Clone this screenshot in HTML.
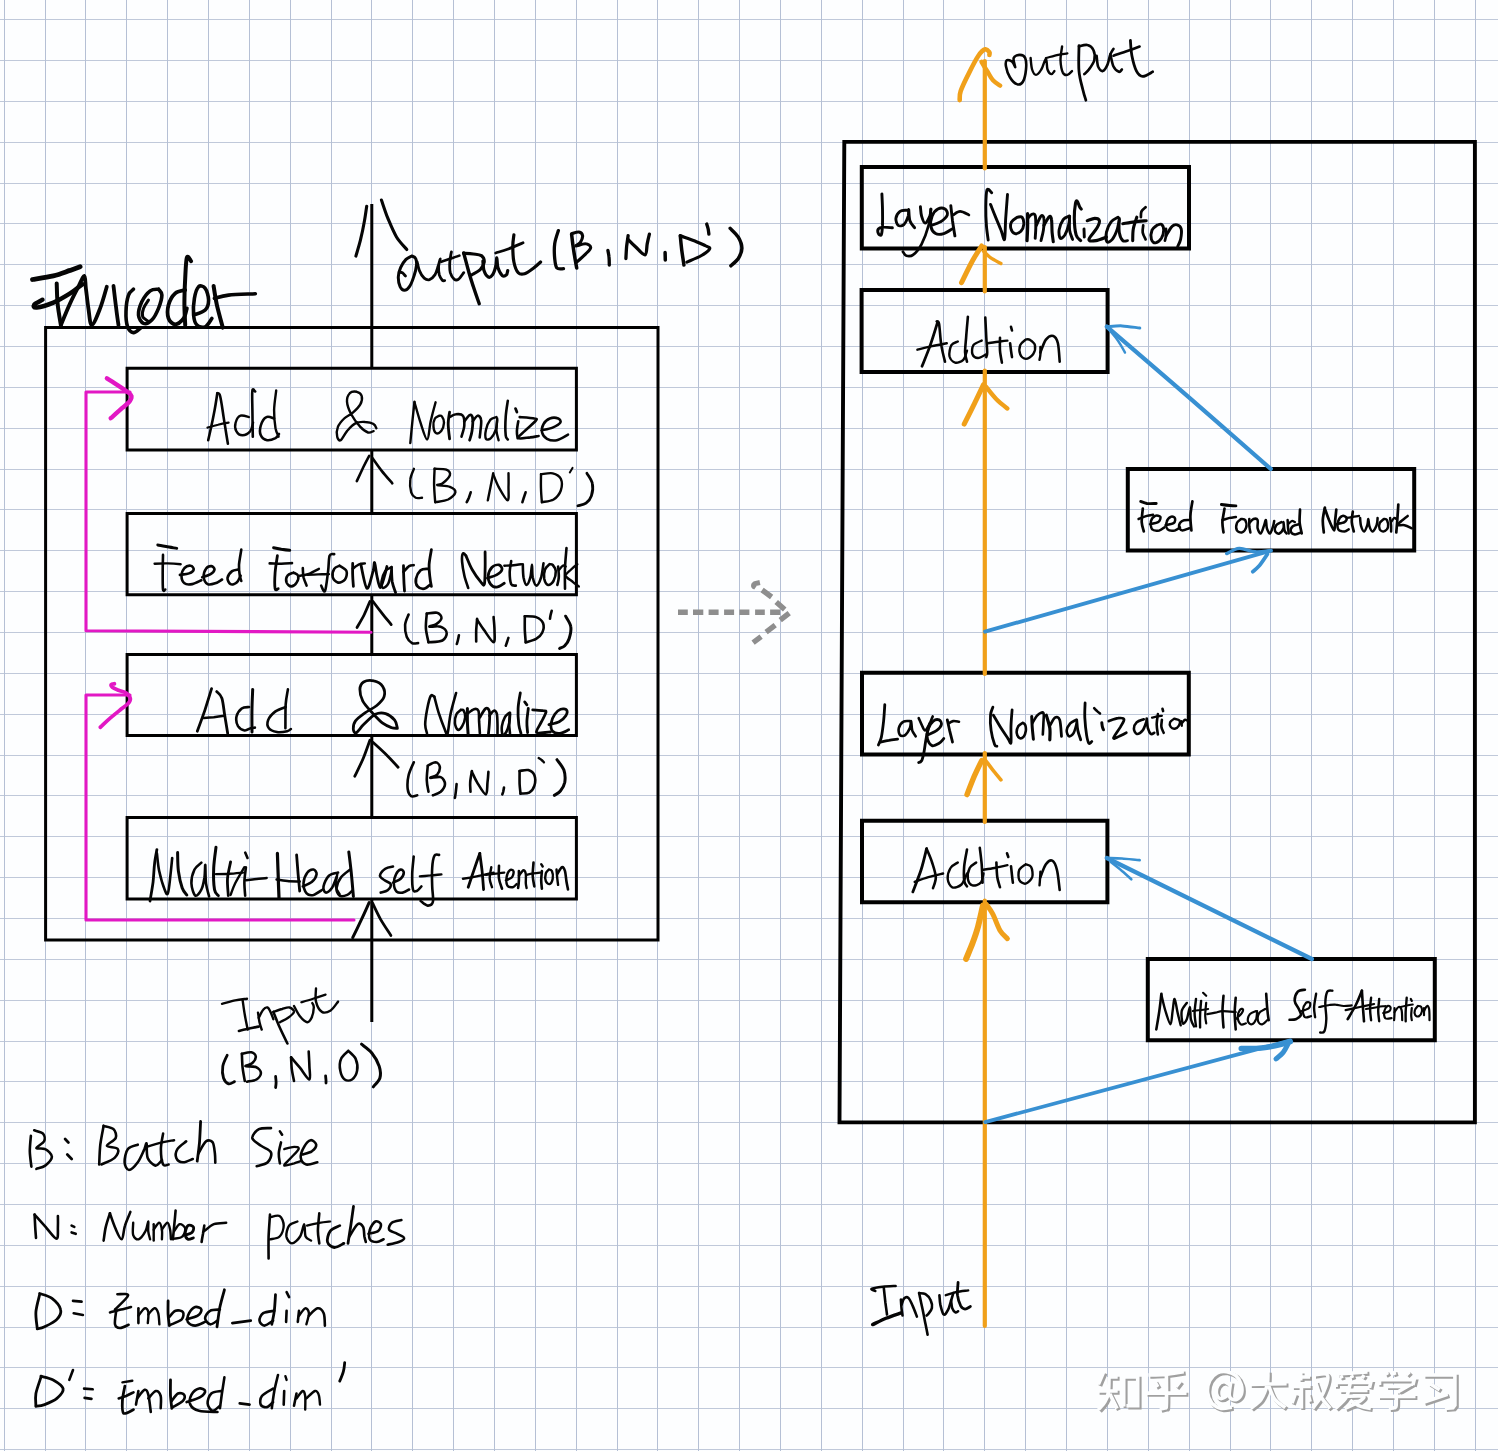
<!DOCTYPE html>
<html><head><meta charset="utf-8"><title>Encoder diagram</title>
<style>
html,body{margin:0;padding:0;background:#fdfeff;font-family:"Liberation Sans",sans-serif;}
svg{display:block}
</style></head><body>
<svg width="1498" height="1451" viewBox="0 0 1498 1451">
<rect width="1498" height="1451" fill="#fdfeff"/>
<g fill="none" stroke-width="1" shape-rendering="crispEdges"><path stroke="#c0c9da" d="M0 19.60H1498M0 60.46H1498M0 101.32H1498M0 142.18H1498M0 183.04H1498M0 223.90H1498M0 264.76H1498M0 305.62H1498M0 346.48H1498M0 387.34H1498M0 428.20H1498M0 469.06H1498M0 509.92H1498M0 550.78H1498M0 591.64H1498M0 632.50H1498M0 673.36H1498M0 714.22H1498M0 755.08H1498M0 795.94H1498M0 836.80H1498M0 877.66H1498M0 918.52H1498M0 959.38H1498M0 1000.24H1498M0 1041.10H1498M0 1081.96H1498M0 1122.82H1498M0 1163.68H1498M0 1204.54H1498M0 1245.40H1498M0 1286.26H1498M0 1327.12H1498M0 1367.98H1498M0 1408.84H1498M0 1449.70H1498"/><path stroke="#b5c0d5" d="M4.20 0V1451M45.06 0V1451M85.92 0V1451M126.78 0V1451M167.64 0V1451M208.50 0V1451M249.36 0V1451M290.22 0V1451M331.08 0V1451M371.94 0V1451M412.80 0V1451M453.66 0V1451M494.52 0V1451M535.38 0V1451M576.24 0V1451M617.10 0V1451M657.96 0V1451M698.82 0V1451M739.68 0V1451M780.54 0V1451M821.40 0V1451M862.26 0V1451M903.12 0V1451M943.98 0V1451M984.84 0V1451M1025.70 0V1451M1066.56 0V1451M1107.42 0V1451M1148.28 0V1451M1189.14 0V1451M1230.00 0V1451M1270.86 0V1451M1311.72 0V1451M1352.58 0V1451M1393.44 0V1451M1434.30 0V1451M1475.16 0V1451"/></g>
<g fill="none" stroke-linecap="butt" stroke-linejoin="miter" stroke-width="3.6"><path d="M1103.7 1371.7L1098.4 1384.4M1108.4 1377.0L1117.7 1377.0M1097.7 1391.0L1117.7 1391.0M1109.0 1377.0C1108.9 1379.6 1109.0 1388.3 1108.4 1392.4C1107.7 1396.5 1106.7 1398.8 1105.0 1401.7C1103.4 1404.6 1099.5 1408.4 1098.4 1409.7M1109.7 1393.7C1110.4 1395.1 1112.5 1399.3 1113.7 1401.7C1114.9 1404.2 1116.5 1407.3 1117.0 1408.4M1126.4 1405.7L1137.7 1405.7L1137.7 1377.0L1123.7 1377.0L1123.7 1406.4M1148.4 1375.0C1151.2 1374.9 1159.2 1374.9 1165.1 1374.4C1171.0 1373.8 1180.7 1372.1 1183.8 1371.7M1154.4 1381.0L1157.8 1387.0M1180.5 1381.0L1175.8 1387.0M1145.7 1393.1L1186.5 1393.1M1166.4 1375.0C1166.4 1379.9 1166.7 1398.9 1166.4 1404.4C1166.2 1409.9 1166.2 1407.0 1165.1 1407.7C1164.0 1408.5 1160.7 1408.8 1159.8 1409.1M1231.9 1407.1C1230.1 1407.3 1224.5 1409.1 1221.2 1408.4C1217.8 1407.7 1214.1 1405.7 1211.8 1403.1C1209.6 1400.4 1207.9 1396.2 1207.6 1392.4C1207.2 1388.6 1208.2 1383.6 1209.8 1380.4C1211.4 1377.1 1214.4 1374.5 1217.2 1373.0C1220.0 1371.6 1223.4 1371.2 1226.5 1371.7C1229.6 1372.1 1233.4 1373.6 1235.9 1375.7C1238.3 1377.8 1240.3 1381.4 1241.2 1384.4C1242.1 1387.4 1242.1 1391.3 1241.5 1393.7C1240.8 1396.2 1238.8 1398.2 1237.2 1399.1C1235.6 1399.9 1233.2 1399.7 1231.9 1399.1C1230.5 1398.4 1229.4 1397.9 1229.2 1395.1C1229.0 1392.2 1230.5 1383.9 1230.8 1381.7M1229.9 1385.0C1228.9 1384.5 1225.9 1381.6 1223.9 1381.7C1221.8 1381.8 1219.1 1383.7 1217.8 1385.7C1216.6 1387.7 1216.2 1391.6 1216.5 1393.7C1216.8 1395.8 1218.4 1397.8 1219.8 1398.4C1221.3 1398.9 1223.7 1398.1 1225.2 1397.1C1226.7 1396.1 1228.3 1393.2 1228.9 1392.4M1249.9 1384.4L1286.6 1383.7M1267.9 1371.0C1267.8 1373.2 1268.4 1379.7 1267.2 1384.4C1266.1 1389.0 1264.0 1395.1 1261.2 1399.1C1258.5 1403.1 1252.3 1406.8 1250.6 1408.4M1268.6 1385.7C1269.6 1387.9 1271.8 1395.4 1274.6 1399.1C1277.4 1402.7 1283.5 1406.3 1285.3 1407.7M1300.7 1371.7L1300.7 1380.4M1300.7 1377.0L1310.1 1377.0M1292.0 1386.4L1310.7 1386.4M1301.4 1387.0L1301.4 1408.4M1295.4 1393.7L1292.0 1403.1M1308.1 1393.7L1310.1 1401.7M1314.1 1375.0C1316.3 1375.0 1325.9 1372.1 1327.4 1375.0C1329.0 1377.9 1325.9 1386.8 1323.4 1392.4C1321.0 1397.9 1314.5 1405.7 1312.7 1408.4M1315.4 1381.7C1316.3 1384.1 1318.3 1391.9 1320.7 1396.4C1323.2 1400.8 1328.5 1406.4 1330.1 1408.4M1337.4 1374.0L1367.5 1372.0M1340.8 1375.7L1342.1 1378.4M1351.4 1375.3L1352.5 1378.0M1364.1 1375.0L1362.1 1378.0M1336.1 1387.0L1336.1 1382.4L1370.8 1382.4L1369.5 1387.7M1339.4 1390.4L1367.5 1390.4M1350.1 1383.7C1349.4 1386.0 1348.5 1393.6 1346.1 1397.7C1343.7 1401.8 1337.2 1406.6 1335.4 1408.4M1344.8 1396.4C1347.9 1396.4 1361.5 1395.3 1363.5 1396.4C1365.5 1397.5 1359.9 1401.1 1356.8 1403.1C1353.7 1405.1 1346.8 1407.5 1344.8 1408.4M1350.1 1400.4C1351.9 1401.4 1357.3 1405.1 1360.8 1406.4C1364.2 1407.7 1369.1 1408.1 1370.8 1408.4M1385.5 1371.7L1387.5 1375.0M1393.5 1371.0L1394.8 1375.0M1409.5 1371.7L1406.2 1375.0M1379.5 1385.0L1379.5 1379.7L1414.2 1379.7L1412.9 1385.0M1386.2 1386.4L1407.5 1386.4L1398.2 1391.7M1378.1 1396.4L1415.5 1396.4M1396.2 1391.7C1396.2 1393.9 1396.4 1402.4 1396.2 1405.1C1395.9 1407.7 1396.1 1407.2 1394.8 1407.7C1393.6 1408.3 1389.8 1408.3 1388.8 1408.4M1423.5 1375.0L1454.9 1375.0L1454.9 1405.1L1452.9 1407.7L1444.9 1408.4M1428.9 1383.0L1439.6 1389.7M1423.5 1402.4L1447.6 1394.4" stroke="#a0a0a0" stroke-width="4" transform="translate(1.9 1.7)"/><path d="M1103.7 1371.7L1098.4 1384.4M1108.4 1377.0L1117.7 1377.0M1097.7 1391.0L1117.7 1391.0M1109.0 1377.0C1108.9 1379.6 1109.0 1388.3 1108.4 1392.4C1107.7 1396.5 1106.7 1398.8 1105.0 1401.7C1103.4 1404.6 1099.5 1408.4 1098.4 1409.7M1109.7 1393.7C1110.4 1395.1 1112.5 1399.3 1113.7 1401.7C1114.9 1404.2 1116.5 1407.3 1117.0 1408.4M1126.4 1405.7L1137.7 1405.7L1137.7 1377.0L1123.7 1377.0L1123.7 1406.4M1148.4 1375.0C1151.2 1374.9 1159.2 1374.9 1165.1 1374.4C1171.0 1373.8 1180.7 1372.1 1183.8 1371.7M1154.4 1381.0L1157.8 1387.0M1180.5 1381.0L1175.8 1387.0M1145.7 1393.1L1186.5 1393.1M1166.4 1375.0C1166.4 1379.9 1166.7 1398.9 1166.4 1404.4C1166.2 1409.9 1166.2 1407.0 1165.1 1407.7C1164.0 1408.5 1160.7 1408.8 1159.8 1409.1M1231.9 1407.1C1230.1 1407.3 1224.5 1409.1 1221.2 1408.4C1217.8 1407.7 1214.1 1405.7 1211.8 1403.1C1209.6 1400.4 1207.9 1396.2 1207.6 1392.4C1207.2 1388.6 1208.2 1383.6 1209.8 1380.4C1211.4 1377.1 1214.4 1374.5 1217.2 1373.0C1220.0 1371.6 1223.4 1371.2 1226.5 1371.7C1229.6 1372.1 1233.4 1373.6 1235.9 1375.7C1238.3 1377.8 1240.3 1381.4 1241.2 1384.4C1242.1 1387.4 1242.1 1391.3 1241.5 1393.7C1240.8 1396.2 1238.8 1398.2 1237.2 1399.1C1235.6 1399.9 1233.2 1399.7 1231.9 1399.1C1230.5 1398.4 1229.4 1397.9 1229.2 1395.1C1229.0 1392.2 1230.5 1383.9 1230.8 1381.7M1229.9 1385.0C1228.9 1384.5 1225.9 1381.6 1223.9 1381.7C1221.8 1381.8 1219.1 1383.7 1217.8 1385.7C1216.6 1387.7 1216.2 1391.6 1216.5 1393.7C1216.8 1395.8 1218.4 1397.8 1219.8 1398.4C1221.3 1398.9 1223.7 1398.1 1225.2 1397.1C1226.7 1396.1 1228.3 1393.2 1228.9 1392.4M1249.9 1384.4L1286.6 1383.7M1267.9 1371.0C1267.8 1373.2 1268.4 1379.7 1267.2 1384.4C1266.1 1389.0 1264.0 1395.1 1261.2 1399.1C1258.5 1403.1 1252.3 1406.8 1250.6 1408.4M1268.6 1385.7C1269.6 1387.9 1271.8 1395.4 1274.6 1399.1C1277.4 1402.7 1283.5 1406.3 1285.3 1407.7M1300.7 1371.7L1300.7 1380.4M1300.7 1377.0L1310.1 1377.0M1292.0 1386.4L1310.7 1386.4M1301.4 1387.0L1301.4 1408.4M1295.4 1393.7L1292.0 1403.1M1308.1 1393.7L1310.1 1401.7M1314.1 1375.0C1316.3 1375.0 1325.9 1372.1 1327.4 1375.0C1329.0 1377.9 1325.9 1386.8 1323.4 1392.4C1321.0 1397.9 1314.5 1405.7 1312.7 1408.4M1315.4 1381.7C1316.3 1384.1 1318.3 1391.9 1320.7 1396.4C1323.2 1400.8 1328.5 1406.4 1330.1 1408.4M1337.4 1374.0L1367.5 1372.0M1340.8 1375.7L1342.1 1378.4M1351.4 1375.3L1352.5 1378.0M1364.1 1375.0L1362.1 1378.0M1336.1 1387.0L1336.1 1382.4L1370.8 1382.4L1369.5 1387.7M1339.4 1390.4L1367.5 1390.4M1350.1 1383.7C1349.4 1386.0 1348.5 1393.6 1346.1 1397.7C1343.7 1401.8 1337.2 1406.6 1335.4 1408.4M1344.8 1396.4C1347.9 1396.4 1361.5 1395.3 1363.5 1396.4C1365.5 1397.5 1359.9 1401.1 1356.8 1403.1C1353.7 1405.1 1346.8 1407.5 1344.8 1408.4M1350.1 1400.4C1351.9 1401.4 1357.3 1405.1 1360.8 1406.4C1364.2 1407.7 1369.1 1408.1 1370.8 1408.4M1385.5 1371.7L1387.5 1375.0M1393.5 1371.0L1394.8 1375.0M1409.5 1371.7L1406.2 1375.0M1379.5 1385.0L1379.5 1379.7L1414.2 1379.7L1412.9 1385.0M1386.2 1386.4L1407.5 1386.4L1398.2 1391.7M1378.1 1396.4L1415.5 1396.4M1396.2 1391.7C1396.2 1393.9 1396.4 1402.4 1396.2 1405.1C1395.9 1407.7 1396.1 1407.2 1394.8 1407.7C1393.6 1408.3 1389.8 1408.3 1388.8 1408.4M1423.5 1375.0L1454.9 1375.0L1454.9 1405.1L1452.9 1407.7L1444.9 1408.4M1428.9 1383.0L1439.6 1389.7M1423.5 1402.4L1447.6 1394.4" stroke="#fdfeff"/></g>
<g stroke="#8e8e8e" fill="none" stroke-width="5.4" stroke-linecap="butt"><path d="M678.0 612.3L687.8 612.3M693.0 612.3L703.3 612.3M708.6 612.3L718.6 612.3M724.1 612.3L734.1 612.3M739.4 612.3L749.4 612.3M755.1 612.3L764.8 612.3M770.1 612.3L780.2 612.3M762.1 590.0L771.6 597.0M776.2 602.1L784.7 609.6M789.2 613.1L780.2 620.1M775.2 625.1L766.1 632.1M761.1 636.6L753.1 642.6"/><path d="M759.9 582.5C759.0 582.7 755.7 583.2 754.6 583.8C753.6 584.4 753.5 585.6 753.6 586.2C753.8 586.9 755.3 587.3 755.6 587.5" stroke-width="5"/></g>
<g stroke="#000" stroke-width="3.0" fill="none" stroke-linejoin="miter">
<path d="M45.6 327.4H658.0V940.1H45.6Z"/>
<path d="M127.1 368.3H576.4V450.0H127.1Z"/>
<path d="M127.1 513.5H576.4V594.7H127.1Z"/>
<path d="M127.1 654.6H576.4V735.4H127.1Z"/>
<path d="M127.1 817.6H576.4V899.1H127.1Z"/>
<path d="M371.8 204V368.3M371.8 450V513.5M371.8 594.7V654.6M371.8 735.4V817.6M371.8 899.1V1022" stroke-width="3"/>
</g>
<g stroke="#000" stroke-width="4.0" fill="none" stroke-linejoin="miter">
<path d="M844.3 141.9H1474.9V1122.4H839.5Z" stroke-width="3.9"/>
<path d="M861.8 167.0H1189.0V248.4H861.8Z"/>
<path d="M861.6 290.0H1107.6V372.0H861.6Z"/>
<path d="M1127.8 469.0H1414.2V550.6H1127.8Z"/>
<path d="M862.0 672.8H1188.8V754.4H862.0Z"/>
<path d="M862.0 820.8H1107.4V902.3H862.0Z"/>
<path d="M1147.8 959.0H1434.8V1040.2H1147.8Z"/>
</g>
<g stroke="#f0a01a" fill="none" stroke-linecap="round" stroke-linejoin="round"><path d="M984.8 61V168.5M984.8 247V291.5M984.8 370.5V674M984.8 753V822M984.8 900.5V1326" stroke-width="4.2"/>
<path d="M959.7 100.2C959.8 98.7 959.1 95.6 960.7 91.0C962.3 86.4 966.2 78.5 969.2 72.6C972.1 66.7 975.7 59.6 978.4 55.7C981.1 51.8 983.5 49.8 985.3 49.3C987.1 48.7 988.7 51.4 989.4 52.3C990.1 53.3 989.4 54.5 989.4 54.9" stroke-width="4.6"/>
<path d="M981.5 61.8C982.5 63.5 985.7 68.8 987.6 71.8C989.5 74.9 990.9 78.0 993.0 80.3C995.1 82.6 999.0 84.8 1000.2 85.6" stroke-width="4.4"/>
<path d="M981.7 246.0C980.1 248.5 975.9 254.6 972.5 260.7C969.1 266.8 963.3 279.1 961.5 282.7" stroke-width="5.0"/>
<path d="M983.5 251.2C984.7 252.3 987.9 255.9 990.8 257.9C993.8 260.0 999.3 262.5 1000.9 263.5" stroke-width="3.4"/>
<path d="M983.5 384.6C982.0 387.8 977.5 397.3 974.3 403.9C971.1 410.5 965.9 420.7 964.2 424.1" stroke-width="5.0"/>
<path d="M985.7 386.5C987.5 388.6 992.7 395.6 996.4 399.3C1000.0 403.0 1005.5 407.0 1007.4 408.5" stroke-width="4.4"/>
<path d="M981.7 760.6C980.4 763.2 976.8 770.5 974.3 776.2C971.9 781.9 968.2 791.5 967.0 794.6" stroke-width="5.4"/>
<path d="M985.7 760.6C986.9 762.1 990.1 766.6 992.7 769.8C995.2 773.0 999.6 778.2 1000.9 779.9" stroke-width="3.6"/>
<path d="M983.0 905.6C982.1 909.1 979.7 920.5 978.0 926.7C976.3 933.0 974.5 937.9 972.5 943.3C970.5 948.6 967.1 956.3 966.1 958.9" stroke-width="6.0"/>
<path d="M986.3 904.3C987.3 905.9 990.4 909.5 992.7 913.9C995.0 918.2 997.6 926.3 1000.0 930.4C1002.5 934.5 1006.1 937.3 1007.4 938.7" stroke-width="5.0"/></g>
<g stroke="#3890d2" fill="none" stroke-linecap="round" stroke-linejoin="round"><path d="M1270.8 468.9C1257.1 456.9 1215.5 420.4 1188.1 396.7C1160.8 373.0 1120.4 338.3 1106.8 326.6" stroke-width="4.2"/>
<path d="M1106.8 326.6C1109.4 326.5 1116.8 325.7 1122.2 325.9C1127.7 326.2 1136.8 327.7 1139.8 328.0" stroke-width="3.0"/>
<path d="M1108.2 328.7C1109.9 330.7 1115.2 336.7 1118.0 340.7C1120.8 344.6 1123.9 350.6 1125.0 352.6" stroke-width="2.4"/>
<path d="M985.0 631.7L1270.9 550.6" stroke-width="3.8"/>
<path d="M1270.9 550.6C1268.3 550.8 1260.4 552.2 1255.1 551.8C1249.8 551.4 1243.9 548.1 1239.2 548.4C1234.4 548.7 1228.8 552.7 1226.7 553.6" stroke-width="3.4"/>
<path d="M1267.5 554.0C1266.2 555.9 1262.1 562.4 1259.6 565.4C1257.1 568.3 1253.9 570.7 1252.8 571.7" stroke-width="3.8"/>
<path d="M1311.9 959.0L1106.8 858.0" stroke-width="4.2"/>
<path d="M1106.8 858.0C1109.4 858.1 1116.6 858.2 1122.0 858.5C1127.5 858.9 1136.7 859.9 1139.7 860.1" stroke-width="2.6"/>
<path d="M1110.8 862.0C1112.7 863.5 1118.6 868.0 1122.0 870.9C1125.5 873.7 1129.8 877.9 1131.3 879.3" stroke-width="2.6"/>
<path d="M985.2 1122.1L1290.4 1040.4" stroke-width="3.8"/>
<path d="M1290.4 1041.6C1287.4 1042.4 1278.2 1045.3 1272.4 1046.4C1266.6 1047.6 1260.8 1048.0 1255.6 1048.4C1250.4 1048.7 1243.6 1048.4 1241.2 1048.4" stroke-width="5.4"/>
<path d="M1288.0 1044.0C1287.2 1045.4 1285.2 1050.0 1283.2 1052.4C1281.2 1054.9 1277.2 1057.9 1276.0 1058.9" stroke-width="5.0"/></g>
<g stroke="#e218c4" fill="none" stroke-linecap="round" stroke-linejoin="round"><path d="M130 392H86V630.8L371 632.2" stroke-width="3.1"/>
<path d="M130 695H86V920H354" stroke-width="3.1"/>
<path d="M106.9 378.3C108.1 379.1 111.2 381.0 114.4 383.1C117.7 385.2 123.3 388.9 126.2 391.0C129.0 393.1 130.8 394.1 131.3 395.8C131.9 397.6 131.2 399.3 129.6 401.4C128.1 403.4 125.2 405.4 122.0 408.2C118.9 411.1 112.5 416.6 110.7 418.2" stroke-width="4.4"/>
<path d="M114.4 683.8C113.9 683.9 111.7 683.9 111.3 684.5C111.0 685.0 111.2 686.2 112.4 687.2C113.6 688.2 116.3 689.3 118.6 690.3C120.9 691.3 124.2 691.7 126.2 693.1C128.1 694.5 130.0 696.9 130.3 698.6C130.6 700.3 129.8 701.6 128.2 703.4C126.6 705.3 123.7 707.1 120.6 709.6C117.5 712.1 113.0 715.7 109.6 718.6C106.2 721.5 101.9 725.8 100.3 727.2" stroke-width="3.8"/></g>
<g stroke="#050505" fill="none" stroke-linecap="round" stroke-linejoin="round"><path d="M366.7 206.2C366.3 208.8 365.3 216.6 364.2 222.3C363.2 228.1 361.7 235.0 360.3 240.7C358.9 246.3 356.6 253.5 355.9 256.1" stroke-width="3.1"/>
<path d="M381.4 200.0C382.5 203.0 385.2 211.7 387.7 217.9C390.3 224.1 393.4 231.7 396.5 237.0C399.7 242.3 405.1 247.4 406.8 249.5" stroke-width="3.1"/>
<path d="M411.9 256.0C410.9 256.5 407.9 257.5 406.0 259.4C404.2 261.3 402.0 264.4 400.7 267.4C399.4 270.3 398.4 273.8 398.3 277.0C398.2 280.2 399.1 284.4 400.1 286.6C401.2 288.8 402.8 290.4 404.4 290.3C406.0 290.3 408.2 288.5 409.8 286.1C411.4 283.7 412.9 279.4 414.0 275.9C415.2 272.5 416.2 268.2 416.5 265.2C416.8 262.3 416.4 259.9 415.6 258.3C414.9 256.8 412.5 256.3 411.9 256.0" stroke-width="3.0"/>
<path d="M399.4 272.2C399.9 272.3 401.3 272.1 402.3 272.7C403.3 273.4 405.0 275.6 405.5 276.1" stroke-width="2.8"/>
<path d="M417.2 262.0C417.6 263.5 418.2 267.9 419.4 270.6C420.5 273.3 422.5 276.6 424.2 278.1C425.9 279.6 427.7 280.2 429.5 279.7C431.3 279.1 433.4 277.1 434.9 274.9C436.3 272.6 437.2 269.0 438.1 266.3C439.0 263.6 440.1 258.8 440.2 258.8C440.3 258.8 438.7 263.6 438.6 266.3C438.5 269.0 438.7 272.5 439.3 274.9C440.0 277.2 441.4 279.2 442.3 280.2C443.2 281.2 444.3 280.6 444.7 280.6" stroke-width="2.8"/>
<path d="M451.4 251.9C451.1 253.6 450.0 258.6 449.8 262.0C449.6 265.5 449.6 269.9 450.3 272.7C451.1 275.6 452.8 278.0 454.1 279.1C455.4 280.2 456.8 280.4 458.4 279.3C460.0 278.3 462.8 273.8 463.7 272.7" stroke-width="2.8"/>
<path d="M441.3 261.8C442.7 261.3 446.8 259.9 449.8 258.8C452.8 257.8 457.8 256.2 459.4 255.6" stroke-width="2.6"/>
<path d="M463.7 253.0C464.6 256.3 467.3 266.6 469.0 272.7C470.8 278.9 472.7 284.7 474.4 289.8C476.1 295.0 478.4 301.4 479.2 303.7" stroke-width="3.4"/>
<path d="M463.7 253.3C465.3 253.4 470.4 253.6 473.3 254.0C476.2 254.4 479.5 254.3 481.3 255.6C483.1 257.0 484.4 259.7 484.2 262.0C484.0 264.4 482.3 267.4 480.3 269.5C478.2 271.7 473.1 274.0 471.7 274.9" stroke-width="3.2"/>
<path d="M482.9 261.0C483.1 262.6 483.1 267.9 484.0 270.6C484.9 273.3 486.8 276.3 488.3 277.0C489.7 277.7 491.3 276.6 492.5 274.9C493.8 273.1 495.0 269.2 495.7 266.3C496.5 263.5 496.5 257.6 496.8 257.8C497.2 257.9 497.0 264.4 497.9 267.4C498.8 270.3 500.7 274.1 502.1 275.4C503.6 276.6 505.5 275.7 506.4 274.9C507.3 274.1 507.5 271.3 507.7 270.6" stroke-width="3.2"/>
<path d="M513.9 234.8C513.7 236.7 512.8 241.5 512.8 246.0C512.8 250.6 513.0 257.6 513.9 262.0C514.8 266.5 516.4 270.8 518.2 272.7C520.0 274.7 522.1 274.5 524.6 273.8C527.1 273.1 530.5 270.4 533.1 268.5C535.8 266.5 539.4 263.1 540.6 262.0" stroke-width="3.2"/>
<path d="M495.7 253.0C497.7 252.3 503.0 250.9 507.5 249.2C512.0 247.5 520.4 243.9 523.0 242.8" stroke-width="2.8"/>
<path d="M558.4 230.6C557.7 232.8 555.3 239.1 554.7 243.8C554.1 248.4 554.3 254.4 554.7 258.5C555.1 262.5 555.4 266.3 556.9 268.0C558.4 269.7 562.4 268.6 563.5 268.7" stroke-width="3.3"/>
<path d="M571.6 234.2C571.9 237.0 572.9 245.5 573.8 251.1C574.6 256.8 576.2 265.2 576.7 268.0" stroke-width="3.5"/>
<path d="M571.6 233.8C572.8 233.5 577.1 231.7 578.9 232.0C580.8 232.3 582.3 234.0 582.6 235.7C582.8 237.4 581.5 240.6 580.4 242.3C579.3 244.0 575.1 245.7 576.0 246.0C576.8 246.2 583.1 243.5 585.5 243.8C588.0 244.0 590.7 245.7 590.7 247.4C590.7 249.2 587.9 251.6 585.5 254.1C583.2 256.5 578.2 260.8 576.7 262.1" stroke-width="3.1"/>
<path d="M607.9 250.4C608.0 251.5 608.8 254.5 609.0 257.0C609.3 259.4 609.3 263.7 609.3 265.1" stroke-width="3.3"/>
<path d="M628.1 235.7C627.9 237.5 627.0 242.9 626.6 246.7C626.3 250.5 626.0 256.5 625.9 258.5" stroke-width="3.3"/>
<path d="M628.1 239.4C629.3 240.6 632.6 244.1 635.5 246.7C638.3 249.3 643.0 255.3 645.0 254.8C647.0 254.3 646.5 247.2 647.2 243.8C647.9 240.4 649.0 235.8 649.4 234.2" stroke-width="3.3"/>
<path d="M665.1 252.6L665.3 259.9" stroke-width="3.5"/>
<path d="M680.3 235.7C680.5 238.0 681.1 244.8 681.7 249.7C682.3 254.5 683.6 262.5 683.9 265.1" stroke-width="3.5"/>
<path d="M680.3 235.7C682.6 236.6 689.9 239.1 694.2 240.8C698.5 242.6 703.4 244.6 706.0 246.0C708.5 247.3 710.4 247.3 709.6 248.9C708.9 250.5 705.3 253.3 701.5 255.5C697.8 257.7 689.3 261.0 686.9 262.1" stroke-width="3.1"/>
<path d="M706.7 224.0C706.9 224.8 707.8 227.4 708.2 229.1C708.5 230.8 708.8 233.4 708.9 234.2" stroke-width="3.3"/>
<path d="M730.2 228.4C731.5 229.8 736.3 233.9 738.3 237.2C740.2 240.5 741.9 244.6 741.9 248.2C741.9 251.7 740.1 255.5 738.3 258.5C736.4 261.4 732.1 264.6 730.9 265.8" stroke-width="3.5"/>
<path d="M32.5 279.5C36.0 278.9 47.1 277.4 53.4 275.9C59.6 274.3 65.6 271.9 70.1 270.4C74.5 268.8 78.4 267.3 80.1 266.7" stroke-width="4.8"/>
<path d="M56.7 283.4C56.9 286.7 56.9 296.5 57.6 303.4C58.2 310.4 60.3 321.5 60.9 325.1" stroke-width="4.0"/>
<path d="M42.5 299.7C41.1 300.6 35.2 303.4 34.2 304.7C33.2 306.1 33.5 307.9 36.7 307.6C39.9 307.2 47.8 304.9 53.4 302.6C58.9 300.2 65.2 296.5 70.1 293.4C74.9 290.3 80.5 285.7 82.6 284.2" stroke-width="4.4"/>
<path d="M60.9 325.1C62.4 321.5 67.1 309.8 70.1 303.4C73.0 297.0 76.0 291.3 78.4 286.7C80.8 282.1 83.0 275.6 84.3 275.9C85.5 276.2 85.2 283.0 85.9 288.4C86.6 293.8 87.5 302.3 88.4 308.4C89.4 314.5 89.8 325.1 91.8 325.1C93.7 325.1 97.6 314.8 100.1 308.4C102.6 302.0 105.7 290.3 106.8 286.7" stroke-width="3.8"/>
<path d="M113.5 285.9C113.9 289.4 115.1 300.2 116.0 306.7C116.8 313.3 118.0 322.0 118.5 325.1" stroke-width="3.8"/>
<path d="M133.5 289.2C132.7 290.2 129.7 291.3 128.5 295.1C127.2 298.8 126.1 306.5 126.0 311.8C125.8 317.0 126.4 323.3 127.6 326.8C128.9 330.3 131.4 332.3 133.5 332.6C135.6 332.9 139.0 329.1 140.2 328.4" stroke-width="3.6"/>
<path d="M158.5 289.2C157.1 289.5 153.0 288.8 150.2 290.9C147.4 293.0 143.8 297.7 141.8 301.7C139.9 305.8 138.2 311.5 138.5 315.1C138.8 318.7 141.3 322.6 143.5 323.4C145.7 324.3 149.3 322.6 151.8 320.1C154.3 317.6 156.8 312.6 158.5 308.4C160.2 304.2 161.9 298.3 161.9 295.1C161.9 291.9 159.1 290.2 158.5 289.2" stroke-width="3.6"/>
<path d="M148.5 300.1C147.7 301.5 144.5 305.6 143.5 308.4C142.5 311.2 142.0 314.7 142.7 316.8C143.4 318.8 146.8 320.2 147.7 320.9" stroke-width="3.0"/>
<path d="M185.2 290.1C183.6 290.6 178.0 290.9 175.2 293.4C172.4 295.9 169.6 300.9 168.5 305.1C167.4 309.3 167.4 315.2 168.5 318.4C169.6 321.6 172.7 324.3 175.2 324.3C177.7 324.3 181.6 321.1 183.6 318.4C185.5 315.8 186.3 310.1 186.9 308.4" stroke-width="3.8"/>
<path d="M191.1 261.2C190.4 260.6 187.9 254.7 186.9 257.5C185.9 260.4 185.6 270.7 185.2 278.4C184.8 286.0 184.4 295.6 184.4 303.4C184.4 311.2 185.1 321.5 185.2 325.1" stroke-width="4.0"/>
<path d="M193.6 315.1C195.5 314.3 202.7 312.6 205.2 310.1C207.8 307.6 208.6 303.7 208.6 300.1C208.6 296.5 206.9 290.6 205.2 288.4C203.6 286.2 200.4 285.1 198.6 286.7C196.8 288.4 195.2 293.7 194.4 298.4C193.6 303.1 193.1 310.6 193.6 315.1C194.0 319.5 195.0 323.2 196.9 325.1C198.8 327.1 202.7 327.9 205.2 326.8C207.8 325.7 210.8 319.8 211.9 318.4" stroke-width="3.6"/>
<path d="M213.6 285.9C214.1 289.1 215.4 298.1 216.9 305.1C218.5 312.0 221.8 323.9 222.8 327.6" stroke-width="4.0"/>
<path d="M214.4 298.4C216.8 297.8 221.8 295.8 228.6 295.1C235.4 294.3 250.9 294.0 255.3 293.7" stroke-width="3.6"/>
<path d="M217.3 393.2C216.8 396.7 215.4 406.4 213.8 414.3C212.3 422.1 209.2 435.9 208.2 440.2" stroke-width="2.6"/>
<path d="M217.3 393.2C217.8 393.7 219.1 392.1 220.1 396.0C221.2 400.0 222.4 409.1 223.6 417.1C224.9 425.0 227.1 439.3 227.9 443.7" stroke-width="2.6"/>
<path d="M207.5 427.6C209.3 427.1 214.5 425.6 218.0 424.8C221.5 423.9 226.8 423.0 228.6 422.7" stroke-width="2.2"/>
<path d="M248.9 417.1C247.5 416.8 242.7 414.7 240.5 415.7C238.2 416.6 236.3 420.1 235.6 422.7C234.9 425.2 235.1 429.0 236.3 431.1C237.4 433.2 240.2 435.3 242.6 435.3C244.9 435.3 248.5 433.2 250.3 431.1C252.0 429.0 252.6 424.1 253.1 422.7" stroke-width="2.4"/>
<path d="M255.2 391.5C254.7 391.4 252.9 387.3 252.4 390.4C251.9 393.5 252.3 402.3 252.4 410.0C252.5 417.8 252.7 432.2 252.8 436.7" stroke-width="2.6"/>
<path d="M274.1 418.5C272.8 418.2 268.6 415.9 266.4 417.1C264.2 418.2 261.7 422.4 260.8 425.5C259.9 428.5 259.7 432.8 260.8 435.3C261.8 437.7 264.6 439.7 267.1 440.2C269.6 440.7 273.5 439.1 275.5 438.1C277.5 437.0 278.4 434.6 279.0 433.9" stroke-width="2.6"/>
<path d="M276.2 390.4C275.9 393.7 274.2 403.7 274.1 410.0C274.0 416.4 274.8 423.8 275.5 428.3C276.3 432.7 278.1 435.3 278.6 436.7" stroke-width="2.4"/>
<path d="M376.4 428.3C376.0 427.6 375.5 425.1 373.6 424.1C371.8 423.0 368.3 422.1 365.2 422.0C362.2 421.8 358.5 421.8 355.4 423.4C352.4 424.9 349.5 428.3 347.0 431.1C344.6 433.9 342.3 439.3 340.7 440.2C339.1 441.1 337.7 438.9 337.2 436.7C336.7 434.5 336.7 429.9 337.9 426.9C339.1 423.8 341.8 420.8 344.2 418.5C346.7 416.1 349.9 415.2 352.6 412.9C355.3 410.5 358.8 407.2 360.3 404.4C361.8 401.6 362.3 398.1 361.7 396.0C361.1 393.9 358.8 392.3 356.8 391.8C354.8 391.4 351.4 391.6 349.8 393.2C348.2 394.9 346.8 398.1 347.0 401.6C347.2 405.1 349.0 410.0 351.2 414.3C353.4 418.5 357.5 423.8 360.3 426.9C363.1 429.9 365.8 431.8 368.0 432.5C370.3 433.2 372.7 431.3 373.6 431.1" stroke-width="2.4"/>
<path d="M414.5 401.6C414.2 404.9 413.1 414.4 412.4 421.3C411.7 428.2 410.7 439.4 410.3 443.0" stroke-width="2.4"/>
<path d="M414.5 402.3C415.5 405.5 418.0 415.1 420.1 421.3C422.2 427.5 425.4 439.5 427.1 439.5C428.9 439.5 429.3 427.5 430.7 421.3C432.1 415.1 434.7 405.5 435.6 402.3" stroke-width="2.4"/>
<path d="M439.1 415.7C438.4 416.1 435.8 416.6 434.9 418.5C433.9 420.3 433.2 424.4 433.5 426.9C433.7 429.3 435.0 432.5 436.3 433.2C437.5 433.9 439.9 432.8 441.2 431.1C442.5 429.3 443.9 425.1 444.0 422.7C444.1 420.2 442.7 417.5 441.9 416.4C441.1 415.2 439.5 415.8 439.1 415.7" stroke-width="2.4"/>
<path d="M449.6 412.1C449.3 414.1 448.2 419.6 448.2 424.1C448.2 428.5 449.3 436.3 449.6 438.8" stroke-width="2.8"/>
<path d="M449.6 417.1C450.6 416.6 453.7 414.5 455.9 414.3C458.1 414.0 461.5 413.8 462.9 415.7C464.3 417.5 464.5 422.0 464.3 425.5C464.1 429.0 462.0 434.8 461.5 436.7" stroke-width="2.6"/>
<path d="M464.3 421.3C465.2 420.2 468.5 415.4 469.9 415.0C471.3 414.5 472.4 415.8 472.7 418.5C473.1 421.1 472.5 427.5 472.0 431.1C471.5 434.7 470.0 438.7 469.6 440.2" stroke-width="2.8"/>
<path d="M472.7 421.3C473.5 420.3 476.2 415.9 477.6 415.7C479.0 415.4 480.7 417.3 481.1 419.9C481.6 422.4 480.7 428.2 480.4 431.1C480.2 434.0 479.8 436.3 479.7 437.4" stroke-width="2.6"/>
<path d="M496.5 417.1C495.5 417.5 492.0 417.8 490.2 419.9C488.5 422.0 486.7 426.5 486.0 429.7C485.3 432.8 485.2 437.4 486.0 438.8C486.8 440.2 489.3 439.6 490.9 438.1C492.6 436.6 494.8 432.7 495.8 429.7C496.9 426.6 497.0 421.5 497.2 419.9" stroke-width="2.4"/>
<path d="M497.2 418.5C497.1 420.6 496.3 427.5 496.5 431.1C496.8 434.7 498.3 438.7 498.6 440.2" stroke-width="2.4"/>
<path d="M507.8 400.9C507.4 403.6 506.0 411.3 505.7 417.1C505.3 422.8 505.3 431.5 505.7 435.3C506.0 439.0 507.4 438.8 507.8 439.5" stroke-width="2.6"/>
<path d="M518.3 421.3C518.0 422.9 517.0 428.3 516.9 431.1C516.8 433.9 517.5 436.9 517.6 438.1" stroke-width="2.6"/>
<path d="M515.5 408.6L516.9 412.1" stroke-width="2.8"/>
<path d="M519.7 417.1C522.1 417.3 531.7 417.9 534.4 418.5C537.1 419.0 537.4 418.5 535.8 420.6C534.2 422.7 527.5 428.2 524.6 431.1C521.7 434.0 517.3 437.0 518.3 438.1C519.2 439.1 526.8 437.7 530.2 437.4C533.6 437.0 537.2 436.2 538.6 436.0" stroke-width="2.6"/>
<path d="M541.4 430.4C543.3 429.9 549.5 428.9 552.6 427.6C555.8 426.3 559.4 424.2 560.3 422.7C561.3 421.1 560.0 419.2 558.2 418.5C556.5 417.8 552.3 417.5 549.8 418.5C547.4 419.4 544.8 421.7 543.5 424.1C542.2 426.4 541.5 430.0 542.1 432.5C542.7 434.9 544.6 437.5 547.0 438.8C549.5 440.1 553.3 440.9 556.8 440.2C560.3 439.5 566.2 435.5 568.0 434.6" stroke-width="2.6"/>
<path d="M369.2 455.9C368.2 457.7 365.5 462.8 363.4 467.0C361.4 471.2 357.9 478.8 356.8 481.1" stroke-width="2.6"/>
<path d="M372.4 458.0C373.9 460.1 378.2 466.4 381.5 470.6C384.8 474.8 390.5 481.2 392.3 483.3" stroke-width="2.6"/>
<path d="M413.9 468.8C413.3 470.6 410.7 475.7 410.3 479.7C409.8 483.6 410.3 489.3 411.2 492.3C412.1 495.3 413.9 496.8 415.7 497.7C417.5 498.6 421.0 497.7 422.0 497.7" stroke-width="2.4"/>
<path d="M434.6 468.8C434.5 471.5 434.0 479.5 434.1 485.1C434.2 490.6 435.0 499.3 435.2 502.2" stroke-width="2.4"/>
<path d="M434.6 468.8C436.6 469.0 443.8 468.7 446.3 469.7C448.9 470.8 450.5 472.9 449.9 475.1C449.3 477.4 444.8 481.6 442.7 483.3C440.6 484.9 436.1 484.5 437.3 485.1C438.5 485.7 446.9 485.7 449.9 486.9C453.0 488.1 455.7 490.2 455.4 492.3C455.1 494.4 451.4 497.8 448.1 499.5C444.8 501.1 437.6 501.7 435.5 502.2" stroke-width="2.4"/>
<path d="M470.7 492.3C470.4 493.2 469.5 496.0 468.9 497.7C468.2 499.3 467.1 501.4 466.7 502.2" stroke-width="2.6"/>
<path d="M493.2 473.3C492.8 475.6 491.4 482.4 490.5 486.9C489.6 491.4 488.2 498.1 487.8 500.4" stroke-width="2.4"/>
<path d="M493.2 474.2C494.1 476.3 496.2 482.5 498.6 486.9C501.0 491.2 506.0 500.4 507.6 500.4C509.3 500.4 508.4 491.4 508.5 486.9C508.7 482.4 508.5 475.6 508.5 473.3" stroke-width="2.4"/>
<path d="M525.6 492.3C525.3 493.2 524.4 496.0 523.8 497.7C523.3 499.3 522.6 501.4 522.4 502.2" stroke-width="2.6"/>
<path d="M541.0 474.2C541.0 476.6 540.8 484.0 541.0 488.7C541.1 493.3 541.7 499.9 541.9 502.2" stroke-width="2.4"/>
<path d="M541.0 474.2C542.9 474.1 549.4 472.6 552.7 473.3C556.0 474.1 559.4 475.9 560.8 478.8C562.1 481.6 562.0 487.0 560.8 490.5C559.6 493.9 556.7 497.5 553.6 499.5C550.4 501.4 543.8 501.7 541.9 502.2" stroke-width="2.4"/>
<path d="M572.5 467.9L569.8 472.4" stroke-width="2.0"/>
<path d="M586.9 473.3C587.8 475.0 591.6 479.5 592.3 483.3C593.1 487.0 592.5 492.6 591.4 495.9C590.4 499.2 588.3 501.4 586.0 503.1C583.8 504.7 579.3 505.3 577.9 505.8" stroke-width="2.8"/>
<path d="M157.7 545.0C159.1 545.2 162.9 545.9 166.1 546.5C169.3 547.1 175.1 548.0 176.8 548.3" stroke-width="2.8"/>
<path d="M163.0 554.9C163.0 557.6 162.7 565.3 162.7 571.1C162.7 576.8 162.6 586.4 163.0 589.5C163.5 592.6 164.9 589.5 165.3 589.5" stroke-width="2.6"/>
<path d="M154.6 563.7C156.8 563.6 163.3 563.3 167.6 563.4C172.0 563.5 178.5 564.0 180.7 564.2" stroke-width="2.4"/>
<path d="M179.9 574.9C181.5 574.6 186.8 574.3 189.1 573.4C191.4 572.5 193.5 570.8 193.7 569.5C194.0 568.2 192.2 565.9 190.7 565.7C189.1 565.4 186.1 566.3 184.5 568.0C183.0 569.7 181.5 573.1 181.5 575.7C181.5 578.2 182.7 581.9 184.5 583.3C186.3 584.8 189.4 584.6 192.2 584.1C195.0 583.6 199.9 580.9 201.4 580.3" stroke-width="2.6"/>
<path d="M202.2 577.2C203.6 576.7 208.6 575.4 210.6 574.1C212.7 572.9 214.3 570.9 214.5 569.5C214.6 568.2 212.8 566.3 211.4 566.1C210.0 566.0 207.3 566.9 206.0 568.8C204.7 570.6 203.5 574.6 203.7 577.2C204.0 579.8 205.6 583.1 207.6 584.1C209.5 585.1 212.8 584.1 215.2 583.3C217.7 582.6 221.0 580.1 222.1 579.5" stroke-width="2.6"/>
<path d="M238.3 569.5C237.2 569.8 233.9 569.7 232.1 571.1C230.3 572.5 227.8 575.8 227.5 578.0C227.3 580.1 229.1 583.3 230.6 584.1C232.1 584.9 235.1 584.0 236.7 582.6C238.4 581.2 239.9 576.8 240.6 575.7" stroke-width="2.6"/>
<path d="M241.3 549.6C241.0 552.1 239.3 560.6 239.0 564.9C238.8 569.3 239.4 573.0 239.8 575.7C240.2 578.4 241.1 580.1 241.3 581.0" stroke-width="2.6"/>
<path d="M273.6 547.7C274.9 548.0 278.6 548.8 281.3 549.3C283.9 549.7 288.3 550.2 289.7 550.3" stroke-width="3.0"/>
<path d="M277.4 555.7C277.0 558.5 275.5 567.1 275.1 572.6C274.7 578.1 274.6 586.0 275.1 588.7C275.6 591.4 277.7 588.7 278.2 588.7" stroke-width="2.8"/>
<path d="M269.7 563.4C271.7 563.4 277.5 563.7 281.3 563.7C285.0 563.6 290.2 563.2 292.0 563.1" stroke-width="2.6"/>
<path d="M293.5 572.6C292.5 573.1 288.5 574.0 287.4 575.7C286.2 577.3 286.0 580.8 286.6 582.6C287.3 584.4 289.6 586.4 291.2 586.4C292.9 586.4 295.5 584.4 296.6 582.6C297.8 580.8 298.7 577.3 298.1 575.7C297.6 574.0 294.3 573.1 293.5 572.6" stroke-width="2.6"/>
<path d="M302.8 568.0C302.9 569.5 302.9 574.3 303.5 577.2C304.2 580.1 306.1 584.2 306.6 585.6" stroke-width="2.6"/>
<path d="M299.7 575.7C301.2 575.4 305.7 575.0 308.9 573.8C312.1 572.7 317.2 569.6 318.9 568.8" stroke-width="2.4"/>
<path d="M307.4 574.9C309.1 574.8 314.5 574.6 318.1 574.4C321.7 574.3 327.1 574.2 328.9 574.1" stroke-width="2.4"/>
<path d="M334.2 554.2C333.5 554.4 330.6 552.9 329.6 555.7C328.6 558.5 328.9 565.2 328.1 571.1C327.3 576.9 326.2 588.6 325.0 591.0C323.9 593.5 321.8 586.5 321.2 585.6" stroke-width="2.6"/>
<path d="M339.6 565.7C338.7 566.2 335.4 566.8 334.2 568.8C333.1 570.7 332.1 574.9 332.7 577.2C333.3 579.5 336.0 582.2 338.1 582.6C340.1 583.0 343.6 581.4 345.0 579.5C346.4 577.6 347.4 573.4 346.5 571.1C345.6 568.8 340.8 566.6 339.6 565.7" stroke-width="2.6"/>
<path d="M352.7 563.4C352.7 565.4 352.5 571.8 352.7 575.7C352.8 579.5 353.3 584.6 353.4 586.4" stroke-width="2.8"/>
<path d="M352.7 568.8C353.8 568.0 357.5 565.0 359.6 564.2C361.6 563.3 364.0 563.5 364.9 563.4" stroke-width="2.4"/>
<path d="M360.8 564.2C361.8 568.2 364.9 587.1 366.9 588.3C369.0 589.4 371.8 575.3 373.1 571.1C374.3 566.8 373.9 561.8 374.6 562.6C375.2 563.4 375.9 571.5 376.9 575.7C377.8 579.8 379.0 587.6 380.3 587.6C381.5 587.6 383.5 579.2 384.6 575.7C385.7 572.1 386.5 568.0 386.9 566.5" stroke-width="2.8"/>
<path d="M391.5 567.2C390.5 567.9 387.0 568.6 385.3 571.1C383.7 573.5 381.9 579.0 381.5 581.8C381.1 584.6 381.9 587.7 383.0 588.0C384.2 588.2 387.0 586.2 388.4 583.3C389.8 580.5 391.0 573.1 391.5 571.1" stroke-width="2.6"/>
<path d="M391.5 567.2C391.6 569.7 391.6 577.6 392.2 581.8C392.9 586.0 395.1 590.8 395.6 592.6" stroke-width="2.8"/>
<path d="M403.5 565.7C403.5 567.9 403.6 574.5 403.8 578.7C403.9 583.0 404.4 589.0 404.5 591.0" stroke-width="2.8"/>
<path d="M403.5 571.8C404.4 570.9 407.4 567.2 409.1 566.1C410.8 565.0 413.0 565.4 413.7 565.2" stroke-width="2.6"/>
<path d="M427.6 568.8C426.4 569.0 422.6 568.6 420.6 570.3C418.7 572.0 416.6 576.1 416.0 578.7C415.5 581.4 416.2 584.8 417.6 586.4C419.0 588.1 422.4 589.0 424.5 588.7C426.5 588.5 429.0 585.5 429.9 584.9" stroke-width="2.8"/>
<path d="M431.4 549.6C431.0 552.1 429.3 560.3 429.1 564.9C428.8 569.5 429.5 573.6 429.9 577.2C430.2 580.8 431.1 584.9 431.4 586.4" stroke-width="2.8"/>
<path d="M465.9 555.7C465.4 555.3 463.5 552.4 462.9 553.4C462.2 554.4 461.8 558.1 462.1 561.8C462.4 565.6 463.4 571.3 464.4 575.7C465.4 580.0 467.6 585.9 468.2 588.0" stroke-width="2.6"/>
<path d="M465.9 555.7C467.0 558.0 469.5 565.0 472.1 569.5C474.6 574.0 479.2 580.1 481.3 582.6C483.3 585.0 483.7 586.3 484.4 584.1C485.0 581.9 485.0 574.9 485.1 569.5C485.3 564.2 485.1 554.8 485.1 551.9" stroke-width="2.8"/>
<path d="M487.4 578.0C489.0 577.5 494.2 576.3 496.6 574.9C499.1 573.5 501.6 571.2 502.0 569.5C502.4 567.9 500.6 565.3 499.0 564.9C497.3 564.5 493.8 565.4 492.0 567.2C490.3 569.0 488.5 572.9 488.2 575.7C487.9 578.5 489.1 582.2 490.5 584.1C491.9 586.0 494.3 587.3 496.6 587.2C499.0 587.1 503.0 584.0 504.3 583.3" stroke-width="2.8"/>
<path d="M511.2 561.1C511.0 563.0 509.7 568.8 509.7 572.6C509.7 576.4 510.2 581.9 511.2 584.1C512.3 586.3 515.1 585.4 515.8 585.6" stroke-width="2.6"/>
<path d="M504.3 565.7C505.9 565.6 510.7 565.5 513.5 565.2C516.4 565.0 519.9 564.3 521.2 564.2" stroke-width="2.4"/>
<path d="M522.8 564.2C522.9 566.3 522.9 573.7 523.5 577.2C524.2 580.7 525.4 584.9 526.6 584.9C527.7 584.9 529.5 580.5 530.4 577.2C531.3 573.9 531.6 564.9 532.0 564.9C532.3 564.9 532.0 573.7 532.7 577.2C533.5 580.7 535.2 585.6 536.6 585.6C538.0 585.6 540.0 580.9 541.2 577.2C542.3 573.5 543.1 565.7 543.5 563.4" stroke-width="2.6"/>
<path d="M549.6 564.2C548.9 565.0 545.9 567.1 545.0 569.5C544.1 572.0 543.7 576.2 544.2 578.7C544.8 581.3 546.5 584.5 548.1 584.9C549.6 585.3 552.2 583.3 553.5 581.0C554.7 578.7 555.9 573.7 555.8 571.1C555.6 568.4 553.7 566.1 552.7 564.9C551.7 563.8 550.1 564.3 549.6 564.2" stroke-width="2.6"/>
<path d="M558.1 566.5C558.2 568.2 559.0 574.1 558.8 577.2C558.7 580.3 557.6 583.6 557.3 584.9" stroke-width="2.6"/>
<path d="M558.8 570.3C559.5 569.5 561.5 566.3 562.7 565.7C563.8 565.0 565.2 566.3 565.7 566.5" stroke-width="2.4"/>
<path d="M566.5 548.0C566.3 551.4 565.2 561.2 565.0 568.0C564.7 574.8 565.0 585.3 565.0 588.7" stroke-width="2.6"/>
<path d="M577.3 564.2C576.2 565.0 573.0 567.6 571.1 569.5C569.2 571.4 565.5 573.6 565.7 575.7C566.0 577.7 570.5 580.0 572.7 581.8C574.8 583.6 577.8 585.6 578.8 586.4" stroke-width="2.4"/>
<path d="M369.9 601.5C368.9 603.7 366.4 610.2 364.3 614.5C362.2 618.8 358.2 625.4 357.0 627.5" stroke-width="2.8"/>
<path d="M373.0 601.5C374.4 603.4 378.6 608.9 381.7 612.8C384.7 616.6 389.6 622.6 391.2 624.6" stroke-width="2.8"/>
<path d="M408.6 614.5C408.0 616.2 405.4 621.2 405.1 624.9C404.8 628.7 405.7 634.0 406.8 637.1C408.0 640.1 410.1 642.1 412.0 643.1C413.9 644.2 417.1 643.1 418.1 643.1" stroke-width="2.6"/>
<path d="M426.8 613.6C426.6 616.1 425.6 623.6 425.9 628.4C426.2 633.2 428.1 640.0 428.5 642.3" stroke-width="2.6"/>
<path d="M426.8 613.6C428.5 613.5 434.7 612.0 437.2 612.8C439.7 613.5 441.7 616.1 441.5 618.0C441.4 619.9 438.4 622.6 436.3 624.1C434.3 625.5 428.7 626.2 429.4 626.7C430.1 627.1 437.8 625.6 440.7 626.7C443.6 627.7 446.5 630.4 446.7 632.7C447.0 635.0 445.4 638.9 442.4 640.5C439.4 642.1 430.8 642.0 428.5 642.3" stroke-width="2.6"/>
<path d="M458.9 635.3C458.7 636.1 458.4 638.2 458.0 639.7C457.7 641.1 457.0 643.3 456.8 644.0" stroke-width="2.6"/>
<path d="M477.1 618.8C477.0 620.7 476.4 626.4 476.2 630.1C476.1 633.9 476.2 639.5 476.2 641.4" stroke-width="2.6"/>
<path d="M477.1 619.7C478.3 621.4 481.3 626.4 484.1 630.1C486.8 633.9 491.9 642.3 493.6 642.3C495.3 642.3 494.5 634.3 494.5 630.1C494.5 625.9 493.7 619.3 493.6 617.1" stroke-width="2.6"/>
<path d="M508.4 637.9C508.1 638.7 507.4 641.0 507.0 642.3C506.5 643.6 506.0 645.2 505.8 645.7" stroke-width="2.6"/>
<path d="M524.8 616.2C524.8 618.6 524.7 625.8 524.8 630.1C525.0 634.5 525.6 640.3 525.7 642.3" stroke-width="2.6"/>
<path d="M524.8 616.2C526.7 616.4 533.1 616.0 536.1 617.1C539.2 618.3 542.1 620.6 543.1 623.2C544.1 625.8 543.4 630.1 542.2 632.7C541.0 635.3 538.9 637.2 536.1 638.8C533.4 640.4 527.4 641.7 525.7 642.3" stroke-width="2.6"/>
<path d="M551.7 610.7C551.5 611.5 550.8 614.0 550.5 615.4C550.2 616.7 550.1 618.3 550.0 618.8" stroke-width="2.6"/>
<path d="M565.6 616.2C566.5 618.0 570.3 622.9 570.8 626.7C571.4 630.4 570.1 635.6 569.1 638.8C568.1 642.0 566.4 644.2 564.8 645.7C563.2 647.3 560.4 647.9 559.6 648.4" stroke-width="3.0"/>
<path d="M211.6 688.6C210.5 692.2 207.3 702.8 205.0 709.9C202.6 717.0 198.6 727.7 197.3 731.2" stroke-width="2.8"/>
<path d="M216.7 691.6C217.6 692.7 220.5 694.1 221.9 698.2C223.2 702.2 223.8 709.9 224.8 715.8C225.8 721.7 227.2 730.5 227.7 733.4" stroke-width="2.8"/>
<path d="M203.5 718.0C205.2 717.9 210.4 717.6 213.8 717.3C217.2 716.9 222.3 716.1 224.1 715.8" stroke-width="2.4"/>
<path d="M249.0 707.0C247.8 707.2 243.8 706.9 241.7 708.5C239.6 710.1 237.2 713.6 236.5 716.5C235.9 719.5 236.7 723.8 238.0 726.1C239.4 728.4 242.5 730.1 244.6 730.5C246.7 730.9 248.8 728.8 250.5 728.3C252.2 727.8 254.2 727.7 254.9 727.6" stroke-width="2.6"/>
<path d="M252.7 689.4C252.6 692.6 252.1 701.4 252.0 708.5C251.8 715.6 252.0 728.0 252.0 732.0" stroke-width="3.0"/>
<path d="M285.7 707.0C284.0 707.7 278.4 709.2 275.5 711.4C272.5 713.6 269.2 717.4 268.1 720.2C267.0 723.0 267.4 726.3 268.9 728.3C270.3 730.2 273.9 731.5 276.9 732.0C280.0 732.5 284.9 731.7 287.2 731.2C289.5 730.7 290.3 729.4 290.9 729.0" stroke-width="2.6"/>
<path d="M287.9 689.4C287.6 691.8 286.2 697.6 285.7 704.1C285.3 710.5 285.5 724.3 285.4 728.3" stroke-width="2.6"/>
<path d="M397.4 728.3C396.9 726.9 396.7 722.7 394.7 720.2C392.8 717.8 388.8 714.6 385.6 713.6C382.4 712.6 379.0 712.5 375.3 714.3C371.7 716.2 366.8 721.6 363.6 724.6C360.4 727.7 357.9 732.0 356.2 732.7C354.5 733.4 353.4 731.0 353.3 729.0C353.2 727.1 353.5 723.6 355.5 720.9C357.5 718.3 361.5 715.4 365.0 712.9C368.6 710.3 373.6 708.2 376.8 705.5C380.0 702.8 383.2 699.9 384.1 696.7C385.1 693.5 384.4 689.1 382.7 686.4C381.0 683.8 377.0 681.6 373.9 680.9C370.7 680.1 365.9 680.6 363.6 682.0C361.3 683.4 360.0 686.2 359.9 689.4C359.8 692.6 360.8 697.2 362.8 701.1C364.9 705.0 369.1 709.2 372.4 712.9C375.7 716.5 379.5 720.7 382.7 723.2C385.9 725.6 389.0 726.7 391.5 727.6C393.9 728.4 396.4 728.2 397.4 728.3" stroke-width="2.8"/>
<path d="M434.3 696.7C433.7 696.6 431.9 693.8 430.7 696.0C429.4 698.2 427.9 705.2 427.0 709.9C426.1 714.7 425.2 720.7 425.2 724.6C425.2 728.5 426.7 732.0 427.0 733.4" stroke-width="2.6"/>
<path d="M434.3 696.7C435.1 699.4 437.0 707.5 438.7 712.9C440.5 718.3 443.2 725.6 444.6 729.0C446.1 732.5 446.6 735.9 447.6 733.4C448.5 731.0 449.1 721.1 450.5 714.3C451.9 707.6 455.1 696.6 456.1 693.0" stroke-width="2.6"/>
<path d="M460.8 709.9C460.0 710.7 457.3 712.1 456.4 714.3C455.4 716.5 454.7 720.6 454.9 723.2C455.1 725.7 456.6 729.3 457.8 729.8C459.1 730.2 461.0 728.2 462.2 726.1C463.5 724.0 464.9 719.8 465.2 717.3C465.4 714.7 464.4 711.9 463.7 710.7C463.0 709.4 461.3 710.1 460.8 709.9" stroke-width="2.6"/>
<path d="M467.4 708.5C467.4 710.7 467.3 717.4 467.4 721.7C467.5 726.0 468.0 732.1 468.1 734.2" stroke-width="3.0"/>
<path d="M467.4 713.6C468.5 712.9 472.2 709.7 474.0 709.2C475.8 708.7 477.5 708.6 478.4 710.7C479.3 712.7 478.9 717.9 479.1 721.7C479.4 725.5 479.7 731.5 479.9 733.4" stroke-width="2.6"/>
<path d="M479.9 717.3C480.8 715.8 484.1 709.4 485.7 708.5C487.3 707.5 488.8 709.0 489.4 711.4C490.0 713.8 489.6 719.4 489.4 723.2C489.2 726.9 488.6 732.3 488.4 734.2" stroke-width="2.8"/>
<path d="M489.4 715.8C490.1 715.0 492.6 711.0 493.8 710.7C495.0 710.3 496.1 711.3 496.8 713.6C497.4 715.9 497.4 721.3 497.5 724.6C497.6 727.9 497.5 732.0 497.5 733.4" stroke-width="2.6"/>
<path d="M509.2 712.9C508.5 713.6 506.1 715.1 504.8 717.3C503.6 719.5 502.3 723.2 501.9 726.1C501.5 729.0 501.9 733.9 502.6 734.9C503.4 735.9 505.2 733.9 506.3 732.0C507.4 730.0 508.6 726.1 509.2 723.2C509.9 720.2 509.9 715.8 510.0 714.3" stroke-width="2.6"/>
<path d="M510.0 712.9C509.9 714.8 509.2 721.2 509.2 724.6C509.2 728.0 509.9 732.0 510.0 733.4" stroke-width="2.6"/>
<path d="M520.3 693.0C519.9 695.6 518.3 703.2 518.1 708.5C517.8 713.7 518.3 720.5 518.8 724.6C519.3 728.8 520.6 732.0 521.0 733.4" stroke-width="2.8"/>
<path d="M528.3 708.5C528.1 710.7 527.0 717.6 526.9 721.7C526.7 725.7 527.5 730.9 527.6 732.7" stroke-width="2.8"/>
<path d="M524.7 701.9L526.9 704.8" stroke-width="2.8"/>
<path d="M532.7 709.9C534.5 710.1 540.8 710.3 543.0 710.7C545.2 711.0 546.2 710.3 546.0 712.1C545.7 714.0 543.1 718.4 541.5 721.7C540.0 725.0 536.2 730.1 536.4 732.0C536.7 733.8 540.7 732.7 543.0 732.7C545.3 732.7 549.1 732.1 550.4 732.0" stroke-width="2.8"/>
<path d="M548.9 724.6C550.6 724.1 556.4 723.2 559.2 721.7C562.0 720.2 564.6 717.8 565.8 715.8C567.0 713.8 567.4 711.0 566.5 709.9C565.7 708.8 562.6 708.5 560.6 709.2C558.7 709.9 556.4 712.0 554.8 714.3C553.2 716.7 551.5 720.3 551.1 723.2C550.7 726.0 551.1 729.5 552.6 731.2C554.0 732.9 557.2 733.7 559.9 733.4C562.6 733.2 567.2 730.4 568.7 729.8" stroke-width="2.8"/>
<path d="M369.9 740.3C368.8 743.2 365.9 752.0 363.4 758.0C360.9 764.0 356.2 773.2 354.8 776.2" stroke-width="2.8"/>
<path d="M373.0 742.4C375.0 744.2 380.9 749.5 385.1 753.6C389.3 757.8 396.0 764.9 398.1 767.2" stroke-width="2.8"/>
<path d="M413.8 762.3C412.9 764.5 409.6 770.9 408.6 775.3C407.5 779.8 407.3 785.7 407.7 789.2C408.1 792.7 409.6 795.1 411.2 796.2C412.8 797.2 416.2 795.4 417.2 795.3" stroke-width="2.6"/>
<path d="M427.7 766.7C427.5 769.0 426.6 776.3 426.8 780.5C426.9 784.7 428.2 789.9 428.5 791.8" stroke-width="2.6"/>
<path d="M427.7 765.8C429.0 765.2 433.4 762.2 435.5 762.3C437.5 762.5 439.5 764.6 439.8 766.7C440.1 768.7 438.8 772.6 437.2 774.5C435.6 776.3 429.7 777.5 430.3 777.9C430.8 778.4 438.2 776.1 440.7 777.1C443.1 778.1 445.0 781.6 445.0 784.0C445.0 786.5 442.7 789.9 440.7 791.8C438.6 793.7 434.2 794.7 432.9 795.3" stroke-width="2.6"/>
<path d="M456.6 784.0C456.5 785.2 456.2 788.6 455.9 791.0C455.7 793.3 455.1 796.7 454.9 797.9" stroke-width="2.6"/>
<path d="M471.9 771.0C471.6 772.9 470.4 778.8 470.2 782.3C469.9 785.7 470.5 790.2 470.5 791.8" stroke-width="2.6"/>
<path d="M471.9 771.9C472.8 773.6 474.8 778.5 477.1 782.3C479.4 786.0 484.1 794.4 485.8 794.4C487.5 794.4 487.1 786.0 487.5 782.3C488.0 778.5 488.3 773.6 488.4 771.9" stroke-width="2.6"/>
<path d="M504.0 787.5C503.9 788.2 503.4 790.7 503.2 791.8C502.9 793.0 502.4 794.0 502.3 794.4" stroke-width="2.6"/>
<path d="M519.6 771.0C519.6 773.2 519.5 780.3 519.6 784.0C519.8 787.8 520.4 792.0 520.5 793.6" stroke-width="2.6"/>
<path d="M519.6 771.0C521.1 770.9 525.9 769.4 528.3 770.1C530.8 770.9 533.4 772.7 534.4 775.3C535.4 777.9 535.3 782.9 534.4 785.7C533.5 788.6 531.5 791.4 529.2 792.7C526.9 794.0 522.0 793.4 520.5 793.6" stroke-width="2.6"/>
<path d="M538.7 758.0C539.2 758.3 540.5 759.0 541.3 759.7C542.2 760.4 543.5 761.9 543.9 762.3" stroke-width="2.4"/>
<path d="M557.0 759.7C558.1 761.4 562.6 766.4 563.9 770.1C565.2 773.9 565.3 778.8 564.8 782.3C564.2 785.7 562.2 788.8 560.4 791.0C558.7 793.1 555.4 794.6 554.4 795.3" stroke-width="3.0"/>
<path d="M156.9 849.6C156.5 851.9 155.2 858.0 154.6 863.4C153.9 868.8 153.8 875.5 153.1 881.8C152.3 888.1 150.5 897.8 150.0 901.0" stroke-width="2.8"/>
<path d="M156.9 853.4C157.3 856.3 157.9 865.0 159.2 871.1C160.5 877.1 163.1 885.8 164.6 889.5C166.0 893.2 167.0 895.6 167.9 893.3C168.9 891.0 169.7 881.6 170.4 875.7C171.1 869.8 171.9 861.0 172.2 858.0" stroke-width="2.6"/>
<path d="M177.6 852.6C177.7 855.7 177.6 865.2 178.4 871.1C179.2 876.9 180.8 884.0 182.2 888.0C183.6 891.9 186.1 893.7 186.8 894.9" stroke-width="3.0"/>
<path d="M201.4 862.6C200.3 863.8 196.2 866.1 194.5 869.5C192.8 873.0 191.3 879.0 191.4 883.3C191.6 887.7 193.6 894.6 195.3 895.6C196.9 896.7 199.9 892.6 201.4 889.5C203.0 886.4 203.8 881.3 204.5 877.2C205.1 873.1 205.0 863.9 205.3 864.9C205.5 865.9 205.4 878.1 206.0 883.3C206.7 888.6 208.6 894.2 209.1 896.4" stroke-width="2.6"/>
<path d="M216.0 847.3C215.6 850.7 214.0 861.0 213.7 868.0C213.4 875.0 213.7 884.9 214.5 889.5C215.2 894.1 217.7 894.6 218.3 895.6" stroke-width="3.0"/>
<path d="M230.6 861.8C230.1 864.7 227.9 873.1 227.5 878.7C227.1 884.4 228.2 892.8 228.3 895.6" stroke-width="2.8"/>
<path d="M216.0 874.1C218.2 874.1 224.6 874.1 229.1 873.8C233.5 873.6 240.6 872.8 242.9 872.6" stroke-width="2.4"/>
<path d="M244.4 867.2C242.9 869.9 237.5 878.7 235.2 883.3C232.9 888.0 231.4 892.9 230.6 894.9" stroke-width="2.4"/>
<path d="M245.9 867.2C245.7 869.7 244.5 877.1 244.4 881.8C244.3 886.5 245.0 893.3 245.2 895.6" stroke-width="2.6"/>
<path d="M245.2 852.6L247.5 858.0" stroke-width="2.6"/>
<path d="M245.9 880.3C247.7 880.1 253.2 879.4 256.7 879.0C260.1 878.7 265.0 878.1 266.7 878.0" stroke-width="2.4"/>
<path d="M277.4 853.4C277.5 857.1 277.9 868.2 278.2 875.7C278.4 883.1 278.8 894.2 279.0 897.9" stroke-width="3.2"/>
<path d="M296.6 854.9C296.9 858.1 297.6 868.1 298.1 874.1C298.7 880.1 299.4 888.2 299.7 891.0" stroke-width="2.8"/>
<path d="M276.6 879.5C278.4 879.8 283.6 880.7 287.4 881.0C291.2 881.4 297.6 881.4 299.7 881.5" stroke-width="2.6"/>
<path d="M302.8 886.4C304.3 885.6 309.7 883.9 312.0 881.8C314.3 879.8 316.3 876.2 316.6 874.1C316.8 872.1 315.0 869.8 313.5 869.5C312.0 869.3 309.0 870.3 307.4 872.6C305.7 874.9 303.6 879.9 303.5 883.3C303.4 886.8 304.9 891.4 306.6 893.3C308.3 895.2 310.8 895.5 313.5 894.9C316.2 894.2 321.2 890.4 322.7 889.5" stroke-width="2.6"/>
<path d="M338.1 872.6C336.5 873.1 331.3 873.4 328.9 875.7C326.4 878.0 324.0 883.6 323.5 886.4C323.0 889.2 324.4 892.3 325.8 892.6C327.2 892.8 330.1 890.5 331.9 888.0C333.7 885.4 335.8 879.0 336.5 877.2" stroke-width="2.6"/>
<path d="M337.3 874.1C337.0 876.2 335.4 883.1 335.8 886.4C336.1 889.7 339.0 892.8 339.6 894.1" stroke-width="2.4"/>
<path d="M350.3 869.5C348.8 870.8 343.4 874.1 341.1 877.2C338.8 880.3 336.8 884.9 336.5 888.0C336.3 891.0 337.8 894.5 339.6 895.6C341.4 896.8 345.1 895.8 347.3 894.9C349.5 894.0 351.8 891.0 352.7 890.3" stroke-width="2.6"/>
<path d="M348.8 851.9C349.2 855.1 350.3 863.6 351.1 871.1C351.9 878.5 353.0 892.2 353.4 896.4" stroke-width="3.0"/>
<path d="M393.0 866.5C391.7 866.8 387.5 867.2 385.3 868.8C383.2 870.3 380.1 873.7 380.0 875.7C379.8 877.6 382.8 878.9 384.6 880.3C386.4 881.7 390.2 882.4 390.7 884.1C391.2 885.8 389.3 888.8 387.6 890.3C386.0 891.7 381.9 892.2 380.7 892.6" stroke-width="2.6"/>
<path d="M393.0 882.6C394.3 881.9 398.9 880.4 400.7 878.7C402.5 877.1 403.8 874.1 403.8 872.6C403.8 871.1 402.0 869.3 400.7 869.5C399.4 869.8 397.2 871.8 396.1 874.1C394.9 876.4 393.7 880.4 393.8 883.3C393.9 886.3 395.3 890.3 396.8 891.8C398.4 893.3 400.9 892.9 403.0 892.6C405.0 892.2 408.1 890.0 409.1 889.5" stroke-width="2.6"/>
<path d="M413.7 856.5C413.5 859.4 412.3 868.6 412.2 874.1C412.1 879.6 412.2 886.7 413.0 889.5C413.7 892.3 415.4 891.5 416.8 891.0C418.2 890.5 420.6 887.2 421.4 886.4" stroke-width="2.6"/>
<path d="M439.1 854.9C438.3 855.1 435.6 853.5 434.5 855.7C433.3 857.9 432.5 862.9 432.2 868.0C431.8 873.1 432.0 880.8 432.2 886.4C432.3 892.0 433.7 898.6 432.9 901.8C432.2 905.0 429.6 905.7 427.6 905.6C425.5 905.5 421.8 901.8 420.6 901.0" stroke-width="2.6"/>
<path d="M419.9 876.4C421.7 876.3 427.0 875.7 430.6 875.4C434.2 875.0 439.6 874.6 441.4 874.4" stroke-width="2.4"/>
<path d="M479.8 853.4C478.7 856.3 475.5 865.4 473.6 871.1C471.7 876.7 469.1 884.5 468.2 887.2" stroke-width="2.8"/>
<path d="M479.8 853.4C480.1 856.3 481.4 865.0 482.1 871.1C482.7 877.1 483.3 886.4 483.6 889.5" stroke-width="2.8"/>
<path d="M462.9 878.7C465.2 878.4 471.6 877.5 476.7 876.4C481.8 875.4 490.8 873.2 493.6 872.6" stroke-width="2.4"/>
<path d="M491.3 867.2C491.0 869.1 489.6 875.4 489.7 878.7C489.9 882.1 491.7 885.8 492.0 887.2" stroke-width="2.4"/>
<path d="M499.0 865.7C499.0 867.9 498.4 874.9 499.0 878.7C499.5 882.6 501.5 887.1 502.0 888.7" stroke-width="2.6"/>
<path d="M485.9 874.9C487.9 874.6 495.1 873.7 498.2 873.4C501.3 873.0 503.3 872.7 504.3 872.6" stroke-width="2.2"/>
<path d="M505.9 880.3C506.9 879.8 510.7 878.7 512.0 877.2C513.3 875.7 513.9 872.2 513.5 871.1C513.2 869.9 510.9 869.3 509.7 870.3C508.5 871.3 507.0 874.6 506.6 877.2C506.2 879.8 506.4 884.0 507.4 885.6C508.4 887.3 511.2 887.4 512.8 887.2C514.3 886.9 516.0 884.6 516.6 884.1" stroke-width="2.4"/>
<path d="M518.9 871.1C518.9 872.6 519.0 877.5 518.9 880.3C518.8 883.1 518.3 886.7 518.1 888.0" stroke-width="2.6"/>
<path d="M518.9 875.7C519.7 874.8 522.4 870.5 523.5 870.3C524.7 870.0 525.4 872.0 525.8 874.1C526.2 876.3 525.7 881.0 525.8 883.3C525.9 885.6 526.5 887.2 526.6 888.0" stroke-width="2.4"/>
<path d="M533.5 862.6C533.4 864.8 532.6 871.7 532.7 875.7C532.9 879.6 534.0 884.6 534.3 886.4" stroke-width="2.6"/>
<path d="M526.6 874.9C527.7 874.6 531.2 873.7 533.5 873.4C535.8 873.0 539.3 872.7 540.4 872.6" stroke-width="2.2"/>
<path d="M541.9 871.1C541.8 872.6 541.2 877.3 541.2 880.3C541.2 883.2 541.8 887.3 541.9 888.7" stroke-width="2.6"/>
<path d="M541.2 864.2L542.7 866.5" stroke-width="2.4"/>
<path d="M548.9 869.5C548.3 870.2 546.3 871.4 545.8 873.4C545.3 875.3 545.1 879.3 545.8 881.0C546.4 882.8 548.5 884.5 549.6 884.1C550.8 883.7 552.3 880.9 552.7 878.7C553.1 876.6 552.6 872.6 551.9 871.1C551.3 869.5 549.4 869.8 548.9 869.5" stroke-width="2.4"/>
<path d="M556.5 869.5C556.7 871.1 557.0 876.2 557.3 878.7C557.6 881.3 557.9 883.9 558.1 884.9" stroke-width="2.4"/>
<path d="M557.3 874.1C558.1 873.0 560.6 867.7 561.9 867.2C563.2 866.7 564.2 868.6 565.0 871.1C565.7 873.5 566.0 878.7 566.5 881.8C567.0 884.9 567.8 888.2 568.0 889.5" stroke-width="2.6"/>
<path d="M369.2 902.5C367.9 905.3 364.3 913.5 361.5 919.4C358.8 925.2 354.2 934.7 352.7 937.7" stroke-width="3.0"/>
<path d="M372.6 903.2C373.9 905.9 377.6 914.0 380.6 919.4C383.7 924.8 389.2 932.8 390.9 935.5" stroke-width="2.8"/>
<path d="M222.0 1003.8C224.2 1003.3 231.1 1001.3 235.2 1000.4C239.4 999.6 245.0 999.0 247.0 998.7" stroke-width="2.4"/>
<path d="M242.6 1000.1C243.0 1002.6 243.9 1009.9 244.8 1014.8C245.6 1019.7 247.2 1027.1 247.7 1029.5" stroke-width="2.4"/>
<path d="M238.9 1031.0C240.5 1030.6 245.2 1029.5 248.5 1028.8C251.8 1028.1 257.0 1026.9 258.7 1026.6" stroke-width="2.6"/>
<path d="M258.0 1012.6C258.3 1014.2 258.9 1019.4 259.5 1022.2C260.1 1025.0 261.3 1028.3 261.7 1029.5" stroke-width="2.4"/>
<path d="M258.7 1017.8C259.5 1016.4 261.7 1011.4 263.2 1009.7C264.6 1008.0 266.3 1007.1 267.6 1007.5C268.8 1007.9 269.5 1009.9 270.5 1011.9C271.5 1013.9 272.9 1018.0 273.4 1019.2" stroke-width="2.4"/>
<path d="M273.4 1011.9C274.4 1014.3 277.0 1021.3 279.3 1026.6C281.6 1031.8 286.0 1040.7 287.4 1043.5" stroke-width="2.6"/>
<path d="M273.4 1011.9C274.9 1011.4 279.6 1009.7 282.2 1009.0C284.9 1008.2 287.6 1007.0 289.6 1007.5C291.5 1008.0 294.2 1010.2 294.0 1011.9C293.7 1013.6 290.4 1016.1 288.1 1017.8C285.8 1019.5 281.4 1021.4 280.0 1022.2" stroke-width="2.4"/>
<path d="M294.0 1006.0C295.0 1007.7 297.7 1013.6 299.9 1016.3C302.1 1019.0 305.3 1021.9 307.2 1022.2C309.2 1022.4 310.5 1020.2 311.6 1017.8C312.7 1015.3 313.7 1009.9 313.8 1007.5C313.9 1005.0 312.6 1003.8 312.3 1003.1" stroke-width="2.4"/>
<path d="M316.0 988.4C316.0 990.6 315.0 997.7 316.0 1001.6C317.0 1005.5 319.4 1010.4 321.9 1011.9C324.3 1013.4 328.0 1012.1 330.7 1010.4C333.4 1008.7 336.8 1003.1 338.1 1001.6" stroke-width="2.4"/>
<path d="M301.3 1002.3C303.3 1001.7 309.0 1000.0 313.1 998.7C317.1 997.4 323.5 995.3 325.6 994.6" stroke-width="2.2"/>
<path d="M227.2 1055.2C226.4 1057.1 223.4 1062.4 222.8 1066.2C222.2 1070.0 222.5 1075.0 223.5 1078.0C224.5 1080.9 226.8 1083.2 228.6 1083.9C230.5 1084.5 233.5 1082.0 234.5 1081.7" stroke-width="2.8"/>
<path d="M241.9 1053.8C242.0 1056.1 242.1 1063.2 242.6 1067.7C243.1 1072.2 244.4 1078.7 244.8 1080.9" stroke-width="2.6"/>
<path d="M241.9 1053.8C243.4 1053.5 249.1 1051.8 251.4 1052.3C253.7 1052.8 255.7 1054.9 255.8 1056.7C255.9 1058.5 253.8 1061.7 252.1 1063.3C250.4 1064.9 244.9 1065.6 245.5 1066.2C246.1 1066.8 253.2 1065.9 255.8 1067.0C258.4 1068.1 260.8 1070.8 260.9 1072.8C261.1 1074.9 258.9 1078.0 256.5 1079.5C254.2 1080.9 248.6 1081.3 247.0 1081.7" stroke-width="2.6"/>
<path d="M275.6 1076.5C275.7 1077.5 276.1 1080.6 276.1 1082.4C276.1 1084.2 275.7 1086.7 275.6 1087.5" stroke-width="2.8"/>
<path d="M291.1 1057.4C291.2 1059.4 291.3 1065.3 291.8 1069.2C292.3 1073.1 293.6 1079.0 294.0 1080.9" stroke-width="2.6"/>
<path d="M291.1 1057.4C292.5 1059.1 296.8 1064.0 299.9 1067.7C302.9 1071.4 307.8 1079.7 309.4 1079.5C311.0 1079.2 309.5 1070.9 309.4 1066.2C309.3 1061.6 308.8 1054.0 308.7 1051.5" stroke-width="2.6"/>
<path d="M325.6 1075.8C325.6 1076.5 325.9 1079.0 326.0 1080.2C326.1 1081.4 326.0 1082.6 326.0 1083.1" stroke-width="2.8"/>
<path d="M348.3 1050.8C347.1 1052.2 342.3 1055.6 341.0 1058.9C339.6 1062.2 339.6 1067.2 340.3 1070.6C340.9 1074.1 342.7 1078.0 344.7 1079.5C346.6 1080.9 349.9 1080.9 352.0 1079.5C354.1 1078.0 356.5 1074.1 357.1 1070.6C357.8 1067.2 357.1 1062.2 355.7 1058.9C354.2 1055.6 349.6 1052.2 348.3 1050.8" stroke-width="2.6"/>
<path d="M361.5 1044.2C363.3 1045.7 368.9 1049.3 371.8 1053.0C374.8 1056.7 377.8 1062.1 379.2 1066.2C380.5 1070.4 380.9 1074.6 379.9 1078.0C378.9 1081.4 374.4 1085.3 373.3 1086.8" stroke-width="3.0"/>
<path d="M30.9 1135.8C30.7 1138.4 29.8 1146.1 29.8 1151.3C29.9 1156.4 31.1 1164.1 31.4 1166.7" stroke-width="2.6"/>
<path d="M34.2 1130.3C35.7 1130.9 41.4 1131.8 43.0 1133.6C44.7 1135.5 45.2 1139.0 44.1 1141.3C43.0 1143.7 36.3 1146.7 36.4 1148.0C36.6 1149.2 42.7 1147.6 45.2 1149.1C47.8 1150.5 51.9 1154.0 51.9 1156.8C51.9 1159.5 47.8 1163.6 45.2 1165.6C42.7 1167.6 37.9 1168.3 36.4 1168.9" stroke-width="2.6"/>
<path d="M65.1 1139.1L68.4 1142.4" stroke-width="2.8"/>
<path d="M67.3 1154.6L71.7 1159.0" stroke-width="2.8"/>
<path d="M103.6 1125.9C103.1 1129.0 101.1 1138.2 100.3 1144.7C99.6 1151.1 99.4 1161.2 99.2 1164.5" stroke-width="2.6"/>
<path d="M103.6 1125.9C105.3 1126.5 111.5 1127.2 113.5 1129.2C115.6 1131.3 116.8 1135.3 115.7 1138.0C114.6 1140.8 106.6 1143.9 106.9 1145.8C107.3 1147.6 116.7 1147.0 117.9 1149.1C119.2 1151.1 117.4 1155.3 114.6 1157.9C111.9 1160.4 103.6 1163.4 101.4 1164.5" stroke-width="2.6"/>
<path d="M137.8 1144.7C136.1 1145.4 130.1 1146.1 127.9 1149.1C125.7 1152.0 124.4 1158.8 124.6 1162.3C124.7 1165.8 126.8 1170.0 129.0 1170.0C131.2 1170.0 135.2 1165.8 137.8 1162.3C140.3 1158.8 142.9 1152.2 144.4 1149.1C145.8 1145.9 146.0 1142.1 146.6 1143.6C147.1 1145.0 146.2 1154.2 147.7 1157.9C149.2 1161.5 153.0 1165.2 155.4 1165.6C157.8 1165.9 160.9 1161.0 162.0 1160.1" stroke-width="2.6"/>
<path d="M163.1 1133.6C162.7 1136.2 160.9 1143.9 160.9 1149.1C160.9 1154.2 161.8 1161.9 163.1 1164.5C164.4 1167.0 167.7 1164.5 168.6 1164.5" stroke-width="2.6"/>
<path d="M146.6 1146.9C149.2 1146.1 157.4 1143.6 162.0 1142.4C166.6 1141.3 172.1 1140.6 174.1 1140.2" stroke-width="2.4"/>
<path d="M186.2 1141.3C184.8 1142.6 179.1 1146.3 177.4 1149.1C175.8 1151.8 175.4 1155.7 176.3 1157.9C177.2 1160.1 180.2 1162.1 182.9 1162.3C185.7 1162.5 191.2 1159.5 192.8 1159.0" stroke-width="2.6"/>
<path d="M200.6 1121.5C200.4 1125.0 200.0 1135.8 199.5 1142.4C198.9 1149.1 197.6 1158.1 197.2 1161.2" stroke-width="2.8"/>
<path d="M198.4 1153.5C199.6 1151.4 203.7 1143.2 206.1 1141.3C208.4 1139.5 211.2 1140.4 212.7 1142.4C214.1 1144.5 214.4 1150.1 214.9 1153.5C215.3 1156.8 215.2 1161.2 215.3 1162.7" stroke-width="2.6"/>
<path d="M271.0 1128.1C269.0 1128.3 262.1 1127.6 258.9 1129.2C255.8 1130.9 252.0 1135.3 252.3 1138.0C252.7 1140.8 258.0 1143.4 261.1 1145.8C264.3 1148.1 269.9 1149.6 271.0 1152.4C272.1 1155.1 270.1 1160.0 267.7 1162.3C265.4 1164.6 258.6 1165.6 256.7 1166.2" stroke-width="2.6"/>
<path d="M281.0 1142.4C280.6 1144.3 278.9 1150.0 278.8 1153.5C278.6 1157.0 279.7 1161.7 279.9 1163.4" stroke-width="2.6"/>
<path d="M279.9 1131.4L282.1 1134.7" stroke-width="2.6"/>
<path d="M284.3 1149.1C285.9 1148.7 291.8 1146.9 294.2 1146.9C296.6 1146.9 299.3 1147.0 298.6 1149.1C297.9 1151.1 292.2 1156.2 289.8 1159.0C287.4 1161.7 283.5 1164.8 284.3 1165.6C285.0 1166.3 291.4 1164.1 294.2 1163.4C296.9 1162.6 299.7 1161.5 300.8 1161.2" stroke-width="2.4"/>
<path d="M301.9 1154.6C303.5 1154.0 309.4 1152.9 311.8 1151.3C314.2 1149.6 316.4 1146.5 316.2 1144.7C316.0 1142.8 312.7 1139.9 310.7 1140.2C308.7 1140.6 305.7 1143.9 304.1 1146.9C302.4 1149.8 300.4 1154.9 300.8 1157.9C301.2 1160.8 303.5 1163.7 306.3 1164.5C309.0 1165.2 315.5 1162.6 317.3 1162.3" stroke-width="2.6"/>
<path d="M34.6 1214.6C34.7 1216.7 35.0 1223.1 35.2 1226.9C35.4 1230.8 35.9 1236.1 36.0 1237.9" stroke-width="2.6"/>
<path d="M34.6 1214.6C36.5 1216.7 41.9 1222.9 45.6 1226.9C49.2 1231.0 54.5 1238.7 56.5 1238.7C58.6 1238.7 57.7 1230.7 57.9 1226.9C58.1 1223.2 57.9 1217.8 57.9 1216.0" stroke-width="2.6"/>
<path d="M71.6 1225.6L74.3 1226.9" stroke-width="2.6"/>
<path d="M71.6 1232.4L75.7 1233.8" stroke-width="2.6"/>
<path d="M109.9 1213.3C109.2 1215.5 106.8 1222.4 105.8 1226.9C104.7 1231.5 104.0 1238.4 103.6 1240.6" stroke-width="2.6"/>
<path d="M109.9 1213.3C110.8 1215.8 113.4 1224.0 115.4 1228.3C117.3 1232.7 120.1 1239.7 121.7 1239.3C123.3 1238.8 123.5 1230.1 125.0 1225.6C126.4 1221.0 129.5 1214.2 130.4 1211.9" stroke-width="2.6"/>
<path d="M133.2 1222.8C133.2 1224.9 132.3 1232.4 133.2 1235.2C134.1 1237.9 136.6 1239.9 138.6 1239.3C140.7 1238.6 143.9 1234.0 145.5 1231.1C147.1 1228.1 147.8 1221.5 148.2 1221.5C148.7 1221.5 147.9 1228.1 148.2 1231.1C148.5 1234.0 149.8 1237.9 150.1 1239.3" stroke-width="2.4"/>
<path d="M153.7 1224.2C153.7 1225.6 153.7 1229.7 153.7 1232.4C153.7 1235.2 153.7 1239.3 153.7 1240.6" stroke-width="2.4"/>
<path d="M153.7 1229.7C154.6 1228.5 157.8 1222.8 159.2 1222.8C160.5 1222.8 161.4 1226.9 161.9 1229.7C162.4 1232.4 161.9 1237.7 161.9 1239.3" stroke-width="2.4"/>
<path d="M161.9 1229.7C162.8 1228.5 166.0 1222.8 167.4 1222.8C168.7 1222.8 169.5 1226.9 170.1 1229.7C170.7 1232.4 170.8 1237.7 170.9 1239.3" stroke-width="2.4"/>
<path d="M175.6 1210.5C175.4 1213.0 174.7 1220.8 174.2 1225.6C173.8 1230.4 173.1 1237.0 172.9 1239.3" stroke-width="2.6"/>
<path d="M174.2 1231.1C175.1 1229.9 177.9 1224.7 179.7 1224.2C181.5 1223.8 184.7 1226.3 185.2 1228.3C185.6 1230.4 184.3 1234.8 182.4 1236.5C180.6 1238.3 175.6 1238.4 174.2 1238.7" stroke-width="2.4"/>
<path d="M185.2 1235.2C186.3 1234.7 190.6 1233.8 192.0 1232.4C193.4 1231.1 194.1 1228.1 193.4 1226.9C192.7 1225.8 189.3 1224.4 187.9 1225.6C186.5 1226.7 185.2 1231.5 185.2 1233.8C185.2 1236.1 186.5 1238.6 187.9 1239.3C189.3 1239.9 192.5 1238.1 193.4 1237.9" stroke-width="2.8"/>
<path d="M204.3 1225.6C204.1 1226.9 203.4 1231.1 203.0 1233.8C202.5 1236.5 201.8 1240.6 201.6 1242.0" stroke-width="2.6"/>
<path d="M204.3 1231.1C205.9 1229.9 210.3 1225.6 213.9 1224.2C217.6 1222.8 224.2 1223.1 226.2 1222.8" stroke-width="2.4"/>
<path d="M270.0 1214.6C269.8 1218.3 268.9 1229.2 268.6 1236.5C268.4 1243.8 268.6 1254.8 268.6 1258.4" stroke-width="2.6"/>
<path d="M270.0 1217.4C271.6 1217.1 277.3 1214.6 279.6 1216.0C281.9 1217.4 283.7 1222.2 283.7 1225.6C283.7 1229.0 281.9 1234.2 279.6 1236.5C277.3 1238.8 271.6 1238.8 270.0 1239.3" stroke-width="2.4"/>
<path d="M297.4 1221.5C296.0 1222.2 291.0 1223.1 289.2 1225.6C287.3 1228.1 286.0 1233.6 286.4 1236.5C286.9 1239.5 289.6 1243.4 291.9 1243.4C294.2 1243.4 298.1 1239.7 300.1 1236.5C302.2 1233.3 303.3 1224.2 304.2 1224.2C305.1 1224.2 304.5 1233.8 305.6 1236.5C306.7 1239.3 310.2 1239.9 311.1 1240.6" stroke-width="2.4"/>
<path d="M319.3 1213.3C319.1 1216.2 317.9 1226.0 317.9 1231.1C317.9 1236.1 319.1 1241.3 319.3 1243.4" stroke-width="2.6"/>
<path d="M307.0 1225.6C309.0 1225.1 315.4 1223.5 319.3 1222.8C323.2 1222.2 328.4 1221.7 330.2 1221.5" stroke-width="2.2"/>
<path d="M339.8 1225.6C338.2 1226.5 332.3 1228.3 330.2 1231.1C328.2 1233.8 326.8 1239.3 327.5 1242.0C328.2 1244.7 331.6 1247.2 334.3 1247.5C337.1 1247.7 342.3 1244.1 343.9 1243.4" stroke-width="2.8"/>
<path d="M353.5 1206.4C353.0 1209.6 351.7 1219.4 350.8 1225.6C349.8 1231.7 348.5 1240.4 348.0 1243.4" stroke-width="2.8"/>
<path d="M349.4 1236.5C350.8 1234.5 355.3 1225.8 357.6 1224.2C359.9 1222.6 361.9 1224.9 363.1 1226.9C364.2 1229.0 364.0 1234.0 364.4 1236.5C364.9 1239.0 365.6 1241.1 365.8 1242.0" stroke-width="2.6"/>
<path d="M368.5 1233.8C370.1 1233.3 376.1 1232.7 378.1 1231.1C380.2 1229.5 381.3 1225.8 380.9 1224.2C380.4 1222.6 377.2 1220.6 375.4 1221.5C373.6 1222.4 370.8 1226.7 369.9 1229.7C369.0 1232.7 368.8 1237.2 369.9 1239.3C371.1 1241.3 374.5 1242.0 376.8 1242.0C379.0 1242.0 382.5 1239.7 383.6 1239.3" stroke-width="2.6"/>
<path d="M401.4 1220.1C399.8 1220.6 393.9 1221.2 391.8 1222.8C389.8 1224.4 388.2 1227.9 389.1 1229.7C390.0 1231.5 394.8 1232.4 397.3 1233.8C399.8 1235.2 403.9 1236.5 404.1 1237.9C404.4 1239.3 401.4 1240.9 398.7 1242.0C395.9 1243.1 389.5 1244.3 387.7 1244.7" stroke-width="2.6"/>
<path d="M39.6 1294.7C39.0 1297.6 36.3 1306.4 35.9 1312.0C35.5 1317.5 37.0 1325.4 37.2 1328.0" stroke-width="2.8"/>
<path d="M39.6 1293.5C41.7 1294.3 48.5 1295.7 52.0 1298.4C55.5 1301.1 59.8 1306.0 60.6 1309.5C61.5 1313.0 59.6 1316.5 56.9 1319.4C54.3 1322.3 47.9 1325.2 44.6 1326.8C41.3 1328.4 38.4 1328.5 37.2 1328.8" stroke-width="2.8"/>
<path d="M73.0 1300.9L81.6 1301.6" stroke-width="2.6"/>
<path d="M73.7 1313.2L82.9 1315.0" stroke-width="2.6"/>
<path d="M117.4 1294.2C119.2 1294.4 128.5 1292.9 128.1 1295.4C127.7 1298.0 117.2 1307.2 115.0 1309.5" stroke-width="2.6"/>
<path d="M110.0 1312.5C111.9 1312.0 117.6 1310.4 121.1 1309.5C124.6 1308.6 129.4 1307.5 131.0 1307.0" stroke-width="2.6"/>
<path d="M116.2 1310.8C116.0 1313.0 114.4 1321.5 115.0 1324.3C115.6 1327.2 117.6 1328.0 119.9 1328.0C122.2 1328.1 127.1 1325.4 128.6 1324.8" stroke-width="2.6"/>
<path d="M138.4 1308.3L138.4 1323.1" stroke-width="2.6"/>
<path d="M138.4 1315.7C139.5 1314.5 143.0 1308.9 144.6 1308.3C146.3 1307.7 147.8 1309.5 148.3 1312.0C148.9 1314.5 147.9 1321.3 147.8 1323.1" stroke-width="2.4"/>
<path d="M148.3 1314.5C149.3 1313.4 152.8 1308.5 154.5 1308.3C156.1 1308.1 157.4 1310.5 158.2 1313.2C159.0 1315.9 159.2 1322.5 159.4 1324.3" stroke-width="2.4"/>
<path d="M168.1 1300.9C168.1 1303.1 167.9 1310.3 168.1 1314.5C168.3 1318.6 169.1 1323.7 169.3 1325.6" stroke-width="2.8"/>
<path d="M169.3 1316.9C170.3 1315.9 173.2 1311.6 175.5 1310.8C177.8 1309.9 181.9 1310.5 182.9 1312.0C183.9 1313.4 183.7 1317.3 181.7 1319.4C179.6 1321.5 172.4 1323.9 170.5 1324.8" stroke-width="2.6"/>
<path d="M186.6 1319.4C188.5 1318.8 195.2 1317.3 197.7 1315.7C200.2 1314.0 201.8 1311.0 201.4 1309.5C201.0 1308.1 197.3 1306.4 195.2 1307.0C193.2 1307.7 190.3 1310.8 189.1 1313.2C187.8 1315.7 186.8 1319.8 187.8 1321.9C188.9 1323.9 192.4 1325.6 195.2 1325.6C198.1 1325.6 203.5 1322.5 205.1 1321.9" stroke-width="2.6"/>
<path d="M219.9 1309.5C218.3 1309.7 212.5 1309.3 210.1 1310.8C207.6 1312.2 205.1 1315.9 205.1 1318.2C205.1 1320.4 208.0 1323.9 210.1 1324.3C212.1 1324.8 216.2 1321.3 217.5 1320.6" stroke-width="2.6"/>
<path d="M224.4 1289.8C223.7 1292.6 221.2 1300.9 219.9 1307.0C218.7 1313.2 217.5 1323.5 217.0 1326.8" stroke-width="2.8"/>
<path d="M232.3 1323.1L250.8 1320.6" stroke-width="2.6"/>
<path d="M274.3 1310.8C272.4 1311.2 265.6 1311.6 263.2 1313.2C260.7 1314.9 259.3 1318.6 259.5 1320.6C259.7 1322.7 262.1 1325.6 264.4 1325.6C266.7 1325.6 271.6 1321.5 273.1 1320.6" stroke-width="2.6"/>
<path d="M275.5 1294.7C275.3 1297.4 274.9 1305.8 274.3 1310.8C273.7 1315.7 272.2 1322.1 271.8 1324.3" stroke-width="2.8"/>
<path d="M286.6 1310.8L286.1 1321.9" stroke-width="2.6"/>
<path d="M286.6 1292.2L289.1 1297.2" stroke-width="2.6"/>
<path d="M299.0 1310.8L297.8 1321.9" stroke-width="2.6"/>
<path d="M299.0 1315.7C300.0 1314.5 303.5 1308.7 305.2 1308.3C306.8 1307.9 308.7 1310.5 308.9 1313.2C309.1 1315.9 306.8 1322.5 306.4 1324.3" stroke-width="2.4"/>
<path d="M308.9 1315.7C310.3 1314.5 315.0 1308.7 317.5 1308.3C320.0 1307.9 322.4 1310.3 323.7 1313.2C324.9 1316.1 324.7 1323.5 324.9 1325.6" stroke-width="2.6"/>
<path d="M40.9 1377.4C40.1 1380.1 36.8 1388.8 35.9 1393.5C35.1 1398.2 35.9 1403.8 35.9 1405.8" stroke-width="2.8"/>
<path d="M40.9 1376.2C42.9 1376.8 49.5 1377.9 53.2 1379.9C56.9 1382.0 62.5 1385.5 63.1 1388.6C63.7 1391.6 60.0 1395.8 56.9 1398.4C53.8 1401.1 48.1 1403.3 44.6 1404.6C41.1 1405.9 37.4 1406.1 35.9 1406.3" stroke-width="2.8"/>
<path d="M73.0 1370.0L69.3 1379.9" stroke-width="2.6"/>
<path d="M84.1 1388.6L92.7 1389.3" stroke-width="2.6"/>
<path d="M84.6 1397.9L91.5 1398.9" stroke-width="2.6"/>
<path d="M122.4 1382.4L132.3 1380.7" stroke-width="2.4"/>
<path d="M124.9 1386.1C124.4 1388.6 122.6 1396.4 122.4 1400.9C122.2 1405.4 121.8 1411.8 123.6 1413.3C125.5 1414.7 131.9 1410.2 133.5 1409.6" stroke-width="2.8"/>
<path d="M118.7 1398.4C119.9 1398.0 123.6 1397.0 126.1 1396.0C128.6 1394.9 132.3 1392.9 133.5 1392.3" stroke-width="2.6"/>
<path d="M138.4 1391.0L136.0 1404.6" stroke-width="2.6"/>
<path d="M137.2 1398.4C138.4 1397.0 142.8 1390.4 144.6 1389.8C146.5 1389.2 147.3 1391.0 148.3 1394.7C149.3 1398.4 150.4 1409.1 150.8 1412.0" stroke-width="2.6"/>
<path d="M148.3 1398.4C149.6 1397.2 153.7 1391.4 155.7 1391.0C157.8 1390.6 159.8 1393.1 160.7 1396.0C161.5 1398.8 160.7 1406.3 160.7 1408.3" stroke-width="2.6"/>
<path d="M170.5 1379.9C170.5 1382.6 170.3 1391.2 170.5 1396.0C170.8 1400.7 171.6 1406.3 171.8 1408.3" stroke-width="2.8"/>
<path d="M171.8 1400.9C172.8 1399.7 175.9 1394.5 178.0 1393.5C180.0 1392.5 183.3 1393.5 184.1 1394.7C185.0 1396.0 184.7 1398.8 182.9 1400.9C181.0 1403.0 174.7 1406.1 173.0 1407.1" stroke-width="2.6"/>
<path d="M186.6 1402.1C188.9 1401.3 197.1 1399.1 200.2 1397.2C203.3 1395.4 205.3 1392.5 205.1 1391.0C204.9 1389.6 201.2 1387.9 199.0 1388.6C196.7 1389.2 193.0 1392.1 191.5 1394.7C190.1 1397.4 189.1 1401.9 190.3 1404.6C191.5 1407.3 194.4 1409.6 199.0 1410.8C203.5 1412.0 214.4 1411.8 217.5 1412.0" stroke-width="2.6"/>
<path d="M221.2 1391.0C219.5 1391.4 213.6 1391.4 211.3 1393.5C209.0 1395.6 207.4 1400.5 207.6 1403.4C207.8 1406.3 210.5 1410.4 212.5 1410.8C214.6 1411.2 218.7 1406.7 219.9 1405.8" stroke-width="2.6"/>
<path d="M224.4 1377.4C224.0 1380.1 222.7 1388.4 221.9 1393.5C221.2 1398.6 220.3 1405.8 219.9 1408.3" stroke-width="2.6"/>
<path d="M239.7 1403.4L249.6 1404.6" stroke-width="2.6"/>
<path d="M273.1 1388.6C271.2 1389.8 264.0 1393.3 261.9 1396.0C259.9 1398.6 259.9 1402.8 260.7 1404.6C261.5 1406.5 264.8 1407.5 266.9 1407.1C268.9 1406.7 272.0 1403.0 273.1 1402.1" stroke-width="2.6"/>
<path d="M278.0 1375.0C277.4 1377.6 275.3 1385.5 274.3 1391.0C273.3 1396.6 272.2 1405.4 271.8 1408.3" stroke-width="2.6"/>
<path d="M284.2 1391.0L283.7 1404.6" stroke-width="2.6"/>
<path d="M285.4 1376.2L286.6 1379.9" stroke-width="2.4"/>
<path d="M296.5 1393.5L294.0 1405.8" stroke-width="2.6"/>
<path d="M296.5 1398.4C297.5 1397.2 301.2 1391.4 302.7 1391.0C304.1 1390.6 304.7 1392.9 305.2 1396.0C305.6 1399.1 305.2 1407.3 305.2 1409.6" stroke-width="2.4"/>
<path d="M306.4 1398.4C307.8 1397.2 313.0 1391.6 315.0 1391.0C317.1 1390.4 317.9 1392.5 318.7 1394.7C319.6 1397.0 319.8 1403.0 320.0 1404.6" stroke-width="2.4"/>
<path d="M344.7 1362.6C344.5 1364.1 344.3 1368.2 343.4 1371.3C342.6 1374.4 340.4 1379.5 339.7 1381.1" stroke-width="2.8"/>
<path d="M1015.2 67.2C1014.7 66.3 1013.6 63.0 1012.2 61.8C1010.8 60.7 1007.8 59.5 1006.8 60.3C1005.8 61.1 1005.5 63.6 1006.0 66.5C1006.5 69.3 1008.1 74.3 1009.9 77.2C1011.7 80.1 1014.6 83.3 1016.8 84.1C1018.9 84.9 1021.4 84.2 1022.9 81.8C1024.4 79.4 1025.6 73.5 1026.0 69.5C1026.4 65.6 1026.2 60.4 1025.2 58.0C1024.2 55.6 1021.8 54.9 1019.8 54.9C1017.9 54.9 1014.5 56.0 1013.7 58.0C1012.9 60.1 1015.0 65.7 1015.2 67.2" stroke-width="2.6"/>
<path d="M1030.6 58.0C1030.8 59.9 1031.2 66.7 1032.1 69.5C1033.0 72.3 1034.4 74.9 1036.0 74.9C1037.5 74.9 1039.7 72.2 1041.3 69.5C1043.0 66.8 1044.9 58.8 1045.9 58.8C1047.0 58.8 1046.6 67.0 1047.5 69.5C1048.4 72.1 1050.2 73.9 1051.3 74.1C1052.5 74.4 1053.9 71.6 1054.4 71.1" stroke-width="2.4"/>
<path d="M1062.1 46.5C1061.8 48.8 1060.4 56.0 1060.5 60.3C1060.7 64.7 1061.7 70.2 1062.8 72.6C1064.0 75.0 1065.9 75.2 1067.4 74.9C1069.0 74.6 1071.3 71.7 1072.0 71.1" stroke-width="2.4"/>
<path d="M1045.9 58.0C1048.0 57.5 1054.6 55.7 1058.2 54.9C1061.8 54.2 1065.9 53.7 1067.4 53.4" stroke-width="2.2"/>
<path d="M1079.0 45.7C1079.0 49.9 1078.3 63.8 1079.0 71.1C1079.6 78.4 1081.6 84.6 1082.8 89.5C1083.9 94.3 1085.3 98.4 1085.9 100.2" stroke-width="2.8"/>
<path d="M1079.0 46.5C1080.4 46.2 1085.0 44.3 1087.4 45.0C1089.8 45.6 1092.4 47.8 1093.5 50.3C1094.7 52.9 1095.1 57.1 1094.3 60.3C1093.5 63.5 1090.6 67.2 1088.9 69.5C1087.3 71.8 1085.1 73.4 1084.3 74.1" stroke-width="2.6"/>
<path d="M1096.6 55.7C1096.9 57.5 1097.1 63.9 1098.1 66.5C1099.2 69.0 1101.2 71.3 1102.8 71.1C1104.3 70.8 1106.1 67.7 1107.4 64.9C1108.6 62.1 1109.4 56.9 1110.4 54.2C1111.5 51.5 1113.0 49.7 1113.5 48.8" stroke-width="2.6"/>
<path d="M1110.4 54.2C1110.9 56.2 1112.1 63.5 1113.5 66.5C1114.9 69.4 1117.5 71.3 1118.9 71.8C1120.3 72.3 1121.4 69.9 1121.9 69.5" stroke-width="2.6"/>
<path d="M1130.4 40.4C1130.6 42.9 1130.9 50.6 1131.9 55.7C1132.9 60.8 1134.7 67.6 1136.5 71.1C1138.3 74.5 1140.0 76.3 1142.7 76.4C1145.4 76.6 1151.0 72.6 1152.7 71.8" stroke-width="2.8"/>
<path d="M1113.5 55.7C1115.8 54.9 1123.0 52.6 1127.3 51.1C1131.7 49.6 1137.6 47.3 1139.6 46.5" stroke-width="2.6"/>
<path d="M881.9 193.9C882.0 196.4 882.4 203.8 882.5 209.1C882.6 214.3 882.6 221.1 882.5 225.4C882.3 229.7 882.0 233.4 881.3 234.8C880.6 236.1 878.9 234.6 878.4 233.6C877.9 232.6 877.6 230.0 878.4 228.9C879.1 227.9 880.7 227.4 883.0 227.2C885.4 227.0 890.8 227.7 892.4 227.8" stroke-width="2.9"/>
<path d="M906.4 210.2C905.3 210.4 901.7 210.0 900.0 211.4C898.2 212.8 896.2 216.1 895.9 218.4C895.6 220.7 896.9 224.4 898.2 225.4C899.6 226.4 902.4 225.8 904.1 224.3C905.7 222.7 907.4 218.5 908.2 216.1C908.9 213.6 908.4 208.9 908.7 209.6C909.0 210.4 908.9 217.7 909.9 220.7C910.9 223.8 913.8 226.6 914.6 227.8" stroke-width="2.9"/>
<path d="M920.4 206.7C920.6 208.3 920.8 213.3 921.6 216.1C922.4 218.8 923.7 223.1 925.1 223.1C926.5 223.1 928.8 218.4 929.8 216.1C930.7 213.7 930.7 210.2 930.9 209.1" stroke-width="2.9"/>
<path d="M930.9 209.1C930.5 211.8 930.2 219.6 928.6 225.4C927.0 231.3 924.1 239.2 921.6 244.1C919.1 249.0 915.9 252.7 913.4 254.6C910.9 256.6 908.2 256.3 906.4 255.8C904.6 255.3 903.5 252.4 902.9 251.7" stroke-width="2.7"/>
<path d="M930.9 225.4C932.5 224.8 937.6 223.7 940.3 221.9C943.0 220.2 946.5 217.0 947.3 214.9C948.1 212.8 946.5 210.0 945.0 209.1C943.4 208.1 940.1 207.9 937.9 209.1C935.8 210.2 933.3 213.2 932.1 216.1C930.9 219.0 930.4 223.7 930.9 226.6C931.5 229.5 933.5 232.4 935.6 233.6C937.7 234.8 941.1 234.4 943.8 233.6C946.5 232.8 950.6 229.7 952.0 228.9" stroke-width="2.9"/>
<path d="M950.8 205.6C951.1 208.1 951.9 215.7 952.5 220.7C953.2 225.8 954.5 233.4 954.9 235.9" stroke-width="2.9"/>
<path d="M953.1 214.9C954.3 214.3 957.5 211.4 960.1 211.4C962.8 211.4 967.4 214.3 968.9 214.9" stroke-width="2.7"/>
<path d="M991.7 192.7C990.9 192.2 988.0 187.5 987.0 189.8C986.0 192.1 985.9 200.8 985.8 206.7C985.7 212.7 986.0 219.9 986.4 225.4C986.8 231.0 987.9 237.6 988.2 240.0" stroke-width="2.9"/>
<path d="M990.5 204.4C991.3 206.3 993.4 211.8 995.2 216.1C996.9 220.4 999.5 226.2 1001.0 230.1C1002.6 234.0 1003.8 241.4 1004.5 239.4C1005.3 237.5 1005.2 225.9 1005.7 218.4C1006.2 210.9 1007.2 198.5 1007.5 194.5" stroke-width="2.9"/>
<path d="M1017.4 217.2C1016.4 218.0 1012.6 220.0 1011.5 221.9C1010.5 223.9 1010.4 227.0 1011.0 228.9C1011.5 230.9 1013.4 233.2 1015.0 233.6C1016.7 234.0 1019.4 232.8 1020.9 231.3C1022.3 229.7 1023.6 226.6 1023.8 224.3C1024.0 221.9 1023.1 218.4 1022.1 217.2C1021.0 216.1 1018.2 217.2 1017.4 217.2" stroke-width="2.9"/>
<path d="M1027.6 213.7C1027.6 215.9 1027.7 222.1 1027.6 226.6C1027.5 231.1 1027.1 238.3 1027.0 240.6" stroke-width="3.3"/>
<path d="M1027.6 218.4C1028.3 217.7 1030.4 214.8 1031.7 214.3C1032.9 213.8 1034.5 213.3 1035.2 215.5C1035.9 217.7 1035.8 224.0 1035.8 227.8C1035.8 231.6 1035.3 236.5 1035.2 238.3" stroke-width="2.9"/>
<path d="M1036.4 225.4C1037.1 223.9 1039.8 217.2 1041.0 216.1C1042.3 214.9 1043.6 216.1 1043.9 218.4C1044.3 220.7 1043.9 226.4 1043.4 230.1C1042.9 233.8 1041.4 238.9 1041.0 240.6" stroke-width="2.9"/>
<path d="M1043.9 225.4C1044.8 224.0 1047.9 217.6 1049.2 216.7C1050.5 215.7 1051.1 217.0 1051.5 219.6C1052.0 222.2 1051.8 228.7 1052.1 232.4C1052.4 236.1 1053.1 240.2 1053.3 241.8" stroke-width="3.1"/>
<path d="M1069.1 216.1C1068.1 216.7 1064.9 217.2 1063.2 219.6C1061.6 221.9 1059.6 227.0 1059.1 230.1C1058.6 233.2 1059.3 237.5 1060.3 238.3C1061.3 239.0 1063.6 236.9 1065.0 234.8C1066.3 232.6 1067.7 228.3 1068.5 225.4C1069.3 222.5 1069.5 218.6 1069.6 217.2" stroke-width="2.9"/>
<path d="M1069.6 216.1C1069.6 218.4 1069.2 226.2 1069.6 230.1C1070.1 234.0 1072.1 237.9 1072.6 239.4" stroke-width="2.9"/>
<path d="M1081.3 209.1C1081.0 208.7 1080.3 208.1 1079.6 206.7C1078.9 205.4 1077.9 201.7 1077.2 201.1C1076.6 200.5 1076.0 200.3 1075.5 203.2C1075.0 206.1 1074.2 213.2 1074.3 218.4C1074.4 223.7 1075.0 231.1 1076.1 234.8C1077.1 238.5 1080.0 239.6 1080.7 240.6" stroke-width="3.1"/>
<path d="M1084.0 228.9L1084.3 237.1" stroke-width="2.9"/>
<path d="M1087.2 220.7C1088.4 220.4 1092.7 218.4 1094.8 218.4C1096.8 218.4 1099.0 219.2 1099.4 220.7C1099.8 222.3 1098.9 224.6 1097.1 227.8C1095.4 230.9 1089.1 237.3 1088.9 239.4C1088.7 241.6 1093.0 241.0 1095.9 240.6C1098.9 240.2 1104.7 237.7 1106.4 237.1" stroke-width="3.1"/>
<path d="M1118.1 217.2C1117.0 218.0 1113.1 219.4 1111.1 221.9C1109.2 224.4 1107.1 229.1 1106.4 232.4C1105.8 235.7 1106.1 240.6 1107.0 241.8C1108.0 242.9 1110.6 241.4 1112.3 239.4C1113.9 237.5 1115.8 233.4 1117.0 230.1C1118.1 226.8 1118.9 221.3 1119.3 219.6" stroke-width="2.9"/>
<path d="M1119.3 218.4C1119.3 220.7 1118.7 228.7 1119.3 232.4C1119.9 236.1 1121.4 239.2 1122.8 240.6C1124.2 242.0 1126.7 240.6 1127.5 240.6" stroke-width="2.9"/>
<path d="M1136.8 217.2C1136.2 219.2 1134.0 225.0 1133.3 228.9C1132.6 232.8 1132.8 238.7 1132.7 240.6" stroke-width="3.1"/>
<path d="M1122.8 223.7C1124.8 223.4 1130.6 222.4 1134.5 221.9C1138.4 221.4 1144.2 220.9 1146.2 220.7" stroke-width="3.1"/>
<path d="M1143.2 225.4C1143.2 226.6 1142.3 230.1 1142.7 232.4C1143.1 234.8 1145.1 238.3 1145.6 239.4" stroke-width="2.7"/>
<path d="M1145.6 207.3C1144.9 208.0 1142.3 209.7 1141.5 211.4C1140.7 213.1 1141.0 216.3 1140.9 217.2" stroke-width="2.7"/>
<path d="M1156.7 225.4C1155.9 226.2 1152.9 227.8 1152.0 230.1C1151.1 232.4 1150.8 237.3 1151.4 239.4C1152.0 241.6 1153.9 243.1 1155.5 242.9C1157.2 242.7 1160.0 240.4 1161.4 238.3C1162.7 236.1 1163.7 232.4 1163.7 230.1C1163.7 227.8 1162.5 225.0 1161.4 224.3C1160.2 223.5 1157.5 225.2 1156.7 225.4" stroke-width="2.9"/>
<path d="M1166.0 228.9C1166.0 230.1 1166.2 234.0 1166.0 235.9C1165.8 237.9 1165.1 239.8 1164.9 240.6" stroke-width="2.7"/>
<path d="M1166.0 235.9C1167.0 234.4 1170.0 228.4 1171.9 226.6C1173.7 224.7 1175.6 224.4 1177.1 224.8C1178.7 225.2 1180.6 226.5 1181.2 228.9C1181.8 231.4 1181.2 236.5 1180.6 239.4C1180.0 242.4 1178.2 245.3 1177.7 246.4" stroke-width="2.9"/>
<path d="M937.6 322.2C936.4 326.0 932.9 337.8 930.3 345.1C927.7 352.5 923.4 362.7 922.0 366.3" stroke-width="2.8"/>
<path d="M936.7 321.3C937.1 321.7 938.3 320.1 939.1 324.0C939.8 328.0 940.3 338.9 941.3 345.1C942.3 351.4 944.3 358.9 945.0 361.7" stroke-width="2.6"/>
<path d="M917.4 349.7C919.9 349.1 927.2 347.1 932.1 346.1C937.0 345.0 944.3 343.8 946.8 343.3" stroke-width="2.4"/>
<path d="M957.8 341.5C956.7 342.1 952.8 342.7 951.4 345.1C950.0 347.6 948.9 353.3 949.5 356.2C950.2 359.1 952.8 362.0 955.1 362.6C957.3 363.2 961.3 361.8 963.3 359.8C965.3 357.8 966.4 352.2 967.0 350.7" stroke-width="2.4"/>
<path d="M967.9 316.7C967.6 320.2 966.5 331.8 966.1 337.8C965.6 343.8 965.0 348.5 965.1 352.5C965.3 356.5 966.7 360.1 967.0 361.7" stroke-width="2.6"/>
<path d="M981.7 340.6C980.3 341.3 974.9 342.9 973.4 345.1C971.9 347.4 971.7 352.2 972.5 354.3C973.3 356.5 975.7 358.0 978.0 358.0C980.3 358.0 984.9 354.9 986.3 354.3" stroke-width="2.4"/>
<path d="M985.3 317.6C985.5 321.0 986.0 332.0 986.3 337.8C986.6 343.6 987.2 349.3 987.2 352.5C987.2 355.7 986.4 356.3 986.3 357.1" stroke-width="2.6"/>
<path d="M1000.0 337.8C1000.0 339.9 999.7 346.5 1000.0 350.7C1000.3 354.8 1001.6 360.6 1001.9 362.6" stroke-width="2.6"/>
<path d="M987.2 343.3C989.3 343.0 996.7 341.9 1000.0 341.5C1003.4 341.0 1006.1 340.7 1007.4 340.6" stroke-width="2.4"/>
<path d="M1010.1 343.3C1010.3 344.5 1010.7 348.4 1011.0 350.7C1011.3 352.9 1011.8 356.0 1012.0 357.1" stroke-width="2.6"/>
<path d="M1011.0 326.8L1012.0 330.5" stroke-width="2.6"/>
<path d="M1025.7 339.6C1024.8 340.6 1021.1 342.7 1020.2 345.1C1019.3 347.6 1019.3 352.0 1020.2 354.3C1021.1 356.6 1023.6 358.9 1025.7 358.9C1027.9 358.9 1031.5 356.6 1033.1 354.3C1034.6 352.0 1035.5 347.6 1034.9 345.1C1034.3 342.7 1030.9 340.6 1029.4 339.6C1027.9 338.7 1026.3 339.6 1025.7 339.6" stroke-width="2.4"/>
<path d="M1040.4 347.0C1040.4 348.2 1040.6 352.2 1040.4 354.3C1040.3 356.5 1039.6 358.9 1039.5 359.8" stroke-width="2.4"/>
<path d="M1040.4 352.5C1041.3 350.3 1043.8 342.4 1045.9 339.6C1048.1 336.9 1051.3 335.4 1053.3 336.0C1055.3 336.6 1056.8 339.0 1057.9 343.3C1058.9 347.6 1059.4 358.6 1059.7 361.7" stroke-width="2.6"/>
<path d="M1140.7 501.4C1141.7 501.7 1144.3 503.1 1146.9 503.5C1149.5 503.8 1154.7 503.5 1156.2 503.5" stroke-width="2.9"/>
<path d="M1142.8 508.6C1142.6 510.9 1141.6 518.3 1141.7 522.1C1141.9 525.9 1143.5 529.8 1143.8 531.4" stroke-width="2.7"/>
<path d="M1138.6 519.0C1140.0 518.5 1144.5 516.6 1146.9 515.9C1149.3 515.2 1152.1 515.0 1153.1 514.8" stroke-width="2.5"/>
<path d="M1150.0 524.2C1151.4 523.8 1156.6 523.3 1158.3 522.1C1160.0 520.9 1160.9 517.9 1160.4 516.9C1159.8 515.9 1156.7 515.2 1155.2 515.9C1153.6 516.6 1151.6 518.8 1151.0 521.0C1150.5 523.3 1150.7 527.8 1152.1 529.3C1153.5 530.9 1157.2 530.7 1159.3 530.4C1161.4 530.0 1163.6 527.8 1164.5 527.3" stroke-width="2.5"/>
<path d="M1165.5 525.2C1166.9 524.8 1172.3 524.3 1173.8 523.1C1175.4 521.9 1175.4 519.0 1174.8 517.9C1174.3 516.9 1172.1 516.2 1170.7 516.9C1169.3 517.6 1167.1 520.0 1166.6 522.1C1166.0 524.2 1166.2 527.9 1167.6 529.3C1169.0 530.7 1172.8 530.7 1174.8 530.4C1176.9 530.0 1179.2 527.8 1180.0 527.3" stroke-width="2.5"/>
<path d="M1189.3 520.0C1188.1 520.2 1183.8 520.0 1182.1 521.0C1180.4 522.1 1179.0 524.7 1179.0 526.2C1179.0 527.8 1180.4 530.0 1182.1 530.4C1183.8 530.7 1188.1 528.6 1189.3 528.3" stroke-width="2.5"/>
<path d="M1192.4 501.4C1192.1 503.8 1190.5 511.0 1190.4 515.9C1190.2 520.7 1191.2 527.9 1191.4 530.4" stroke-width="2.7"/>
<path d="M1221.4 504.5C1222.8 504.7 1227.3 505.3 1229.7 505.5C1232.1 505.8 1234.9 505.9 1235.9 505.9" stroke-width="2.9"/>
<path d="M1224.5 508.6C1224.2 510.9 1222.6 518.1 1222.4 522.1C1222.3 526.0 1223.3 530.7 1223.5 532.4" stroke-width="2.7"/>
<path d="M1222.4 520.0C1223.6 519.7 1227.4 518.5 1229.7 517.9C1231.9 517.4 1234.9 517.1 1235.9 516.9" stroke-width="2.5"/>
<path d="M1241.1 519.0C1240.4 519.7 1237.6 521.2 1236.9 523.1C1236.2 525.0 1236.1 528.8 1236.9 530.4C1237.8 531.9 1240.5 532.9 1242.1 532.4C1243.6 531.9 1245.7 529.3 1246.2 527.3C1246.8 525.2 1246.1 521.4 1245.2 520.0C1244.3 518.6 1241.8 519.2 1241.1 519.0" stroke-width="2.5"/>
<path d="M1249.3 519.0C1249.3 520.2 1249.2 524.0 1249.3 526.2C1249.5 528.5 1250.2 531.4 1250.4 532.4" stroke-width="2.5"/>
<path d="M1249.3 523.1C1250.0 522.4 1252.1 519.5 1253.5 519.0C1254.9 518.5 1256.9 518.5 1257.6 520.0C1258.3 521.6 1257.1 526.0 1257.6 528.3C1258.1 530.5 1259.7 533.8 1260.7 533.5C1261.8 533.1 1263.0 528.5 1263.8 526.2C1264.7 524.0 1265.4 519.7 1265.9 520.0C1266.4 520.4 1266.2 526.0 1266.9 528.3C1267.6 530.5 1269.0 533.8 1270.0 533.5C1271.1 533.1 1272.4 528.3 1273.1 526.2C1273.8 524.2 1274.0 521.9 1274.2 521.0" stroke-width="2.5"/>
<path d="M1281.4 522.1C1280.6 522.6 1277.3 523.6 1276.2 525.2C1275.2 526.7 1274.7 530.0 1275.2 531.4C1275.7 532.8 1278.0 534.0 1279.3 533.5C1280.7 532.9 1282.8 530.2 1283.5 528.3C1284.2 526.4 1283.3 521.7 1283.5 522.1C1283.7 522.4 1284.0 528.5 1284.5 530.4C1285.0 532.3 1286.2 532.9 1286.6 533.5" stroke-width="2.5"/>
<path d="M1287.6 520.0C1287.7 521.2 1287.9 525.0 1288.0 527.3C1288.2 529.5 1288.6 532.4 1288.7 533.5" stroke-width="2.5"/>
<path d="M1288.0 524.2C1288.7 523.6 1290.6 521.4 1291.8 521.0C1292.9 520.7 1294.3 521.9 1294.9 522.1" stroke-width="2.3"/>
<path d="M1299.0 524.2C1298.0 524.5 1294.2 525.0 1292.8 526.2C1291.4 527.4 1290.4 530.0 1290.7 531.4C1291.1 532.8 1293.1 534.3 1294.9 534.5C1296.6 534.7 1300.0 532.8 1301.1 532.4" stroke-width="2.5"/>
<path d="M1300.0 509.7C1300.0 511.7 1299.4 518.1 1299.6 522.1C1299.9 526.0 1301.4 531.6 1301.7 533.5" stroke-width="2.7"/>
<path d="M1324.9 507.6C1324.5 509.7 1323.0 515.9 1322.8 520.0C1322.6 524.2 1323.7 530.4 1323.8 532.4" stroke-width="2.7"/>
<path d="M1324.9 508.6C1325.6 510.5 1327.5 516.4 1329.0 520.0C1330.6 523.6 1333.2 530.4 1334.2 530.4C1335.2 530.4 1334.9 523.5 1335.2 520.0C1335.6 516.6 1336.1 511.4 1336.3 509.7" stroke-width="2.7"/>
<path d="M1336.3 524.2C1337.6 523.8 1342.8 523.1 1344.5 522.1C1346.3 521.0 1346.9 519.0 1346.6 517.9C1346.3 516.9 1343.8 515.4 1342.5 515.9C1341.1 516.4 1339.0 518.8 1338.3 521.0C1337.6 523.3 1337.3 527.6 1338.3 529.3C1339.4 531.1 1342.8 531.4 1344.5 531.4C1346.3 531.4 1348.0 529.7 1348.7 529.3" stroke-width="2.5"/>
<path d="M1352.8 511.7C1352.6 513.5 1351.6 518.8 1351.8 522.1C1351.9 525.4 1353.5 529.8 1353.8 531.4" stroke-width="2.7"/>
<path d="M1346.6 517.9C1347.6 517.8 1350.7 517.3 1352.8 516.9C1354.9 516.6 1358.0 516.0 1359.0 515.9" stroke-width="2.3"/>
<path d="M1360.1 517.9C1360.2 519.3 1360.4 524.0 1361.1 526.2C1361.8 528.5 1363.2 531.6 1364.2 531.4C1365.2 531.2 1366.6 527.3 1367.3 525.2C1368.0 523.1 1368.0 518.8 1368.3 519.0C1368.7 519.2 1368.7 524.2 1369.4 526.2C1370.1 528.3 1371.3 531.6 1372.5 531.4C1373.7 531.2 1375.7 527.4 1376.6 525.2C1377.5 522.9 1377.5 519.2 1377.6 517.9" stroke-width="2.5"/>
<path d="M1383.9 519.0C1383.2 519.7 1380.4 521.4 1379.7 523.1C1379.0 524.8 1379.0 527.9 1379.7 529.3C1380.4 530.7 1382.5 531.7 1383.9 531.4C1385.2 531.1 1387.5 529.2 1388.0 527.3C1388.5 525.4 1387.6 521.4 1387.0 520.0C1386.3 518.6 1384.4 519.2 1383.9 519.0" stroke-width="2.5"/>
<path d="M1390.1 517.9C1390.2 519.2 1390.9 522.9 1391.1 525.2C1391.3 527.4 1391.1 530.4 1391.1 531.4" stroke-width="2.5"/>
<path d="M1391.1 522.1C1391.6 521.4 1393.3 518.5 1394.2 517.9C1395.1 517.4 1395.9 518.8 1396.3 519.0" stroke-width="2.3"/>
<path d="M1398.3 504.5C1398.2 507.1 1397.6 515.4 1397.3 520.0C1397.0 524.7 1396.4 530.4 1396.3 532.4" stroke-width="2.7"/>
<path d="M1407.7 515.9C1406.6 516.7 1403.2 519.5 1401.4 521.0C1399.7 522.6 1396.8 524.5 1397.3 525.2C1397.8 525.9 1402.1 524.7 1404.5 525.2C1407.0 525.7 1410.6 527.8 1411.8 528.3" stroke-width="2.5"/>
<path d="M884.8 704.7C884.6 707.4 884.2 715.6 883.6 721.1C883.0 726.5 882.2 733.4 881.3 737.4C880.4 741.4 878.9 743.8 878.4 745.0" stroke-width="2.8"/>
<path d="M880.1 742.1C881.6 741.8 886.0 740.8 888.9 740.4C891.8 739.9 896.2 739.4 897.6 739.2" stroke-width="2.8"/>
<path d="M909.9 721.1C908.8 721.2 905.3 720.5 903.5 721.7C901.6 722.8 899.4 725.8 898.8 728.1C898.2 730.3 898.9 733.9 900.0 735.1C901.0 736.3 903.6 736.3 905.2 735.1C906.9 733.9 908.9 730.4 909.9 728.1C910.9 725.7 910.7 720.7 911.1 721.1C911.5 721.5 911.5 727.9 912.2 730.4C913.0 733.0 915.2 735.3 915.7 736.3" stroke-width="2.6"/>
<path d="M918.7 718.2C919.2 719.2 920.5 722.5 921.6 724.6C922.7 726.6 923.7 730.6 925.1 730.4C926.5 730.2 928.5 725.7 929.8 723.4C931.0 721.1 932.2 717.6 932.7 716.4" stroke-width="2.6"/>
<path d="M929.8 723.4C929.2 725.7 927.2 732.6 926.3 737.4C925.3 742.3 924.7 748.7 923.9 752.6C923.1 756.5 922.5 759.1 921.6 760.8C920.7 762.4 919.2 762.3 918.7 762.5" stroke-width="2.8"/>
<path d="M927.4 735.1C929.0 734.3 934.4 732.2 936.8 730.4C939.1 728.7 941.1 726.3 941.4 724.6C941.8 722.8 940.5 720.5 939.1 719.9C937.7 719.3 935.1 719.5 933.3 721.1C931.4 722.6 929.0 726.3 928.0 729.3C927.0 732.2 926.7 735.9 927.4 738.6C928.1 741.3 930.2 744.8 932.1 745.6C934.0 746.4 937.2 744.4 939.1 743.3C941.1 742.1 943.0 739.4 943.8 738.6" stroke-width="2.8"/>
<path d="M947.3 719.9C947.7 721.7 948.8 726.7 949.6 730.4C950.5 734.1 952.1 740.2 952.5 742.1" stroke-width="2.8"/>
<path d="M948.5 723.4C949.2 723.0 951.4 721.4 953.1 721.1C954.9 720.8 958.0 721.6 959.0 721.7" stroke-width="2.6"/>
<path d="M992.9 707.1C992.5 708.4 990.8 711.3 990.5 715.2C990.2 719.1 990.4 725.6 991.1 730.4C991.8 735.3 993.6 741.8 994.6 744.4C995.6 747.1 996.5 745.9 996.9 746.2" stroke-width="2.8"/>
<path d="M993.4 715.2C994.7 717.4 998.6 724.2 1001.0 728.1C1003.5 732.0 1006.4 736.2 1008.0 738.6C1009.7 741.0 1010.5 744.8 1011.0 742.7C1011.4 740.5 1010.8 731.2 1011.0 725.7C1011.2 720.3 1011.9 712.6 1012.1 710.0" stroke-width="2.8"/>
<path d="M1022.9 722.8C1022.1 723.4 1019.3 724.7 1018.2 726.3C1017.2 728.0 1016.5 730.8 1016.7 732.8C1016.9 734.7 1018.3 737.3 1019.4 738.0C1020.5 738.7 1022.4 738.0 1023.5 736.8C1024.6 735.7 1025.5 733.0 1025.8 731.0C1026.1 729.1 1025.7 726.5 1025.3 725.2C1024.8 723.8 1023.3 723.2 1022.9 722.8" stroke-width="2.6"/>
<path d="M1031.7 716.4C1031.8 718.3 1032.0 724.3 1032.3 728.1C1032.6 731.9 1033.2 737.3 1033.4 739.2" stroke-width="3.0"/>
<path d="M1032.3 723.4C1033.1 722.0 1035.7 717.0 1037.5 715.2C1039.4 713.5 1042.4 711.5 1043.4 712.9C1044.3 714.3 1043.5 719.8 1043.4 723.4C1043.3 727.0 1042.9 732.7 1042.8 734.5" stroke-width="2.6"/>
<path d="M1046.3 715.2C1046.9 717.4 1049.2 724.0 1049.8 728.1C1050.4 732.2 1049.8 737.8 1049.8 739.8" stroke-width="3.2"/>
<path d="M1049.8 725.7C1050.7 724.4 1053.4 718.5 1055.0 717.6C1056.7 716.6 1058.6 716.8 1059.7 719.9C1060.8 723.0 1061.2 733.5 1061.5 736.3" stroke-width="2.8"/>
<path d="M1076.1 719.9C1075.1 720.5 1071.8 721.7 1070.2 723.4C1068.7 725.2 1066.9 728.3 1066.7 730.4C1066.5 732.6 1067.9 735.9 1069.1 736.3C1070.2 736.7 1072.5 734.9 1073.7 732.8C1075.0 730.6 1076.2 725.0 1076.7 723.4" stroke-width="2.6"/>
<path d="M1076.7 719.9C1076.9 721.7 1077.1 727.1 1077.8 730.4C1078.5 733.7 1080.3 738.2 1080.7 739.8" stroke-width="2.8"/>
<path d="M1085.1 703.0C1085.0 705.4 1084.6 712.2 1084.8 717.6C1085.1 722.9 1085.9 730.8 1086.6 735.1C1087.3 739.4 1088.0 742.2 1088.9 743.3C1089.8 744.3 1091.4 741.8 1091.8 741.5" stroke-width="2.8"/>
<path d="M1094.2 708.2C1094.7 708.7 1096.1 710.3 1097.1 711.1C1098.1 712.0 1099.5 713.1 1100.0 713.5" stroke-width="2.6"/>
<path d="M1101.8 722.8C1101.9 723.5 1102.1 725.7 1102.4 726.9C1102.7 728.1 1103.3 729.3 1103.5 729.8" stroke-width="3.0"/>
<path d="M1108.8 721.1C1110.3 720.6 1115.6 718.4 1118.1 718.2C1120.7 717.9 1123.6 717.9 1124.0 719.3C1124.4 720.8 1122.2 723.8 1120.5 726.9C1118.7 730.0 1113.7 736.5 1113.5 738.0C1113.3 739.6 1117.2 737.1 1119.3 736.3C1121.4 735.4 1125.1 733.3 1126.3 732.8" stroke-width="2.8"/>
<path d="M1143.8 719.3C1142.7 719.8 1138.5 720.7 1136.8 722.2C1135.2 723.8 1133.9 726.7 1133.9 728.7C1133.9 730.6 1135.4 733.6 1136.8 733.9C1138.3 734.2 1141.1 732.4 1142.7 730.4C1144.2 728.5 1145.5 724.2 1146.2 722.2C1146.8 720.3 1146.5 717.8 1146.8 718.7C1147.0 719.7 1147.2 725.6 1147.9 728.1C1148.6 730.6 1149.8 733.1 1150.8 733.9C1151.9 734.7 1153.8 733.0 1154.3 732.8" stroke-width="2.6"/>
<path d="M1157.9 714.1C1157.7 715.8 1156.7 721.2 1156.7 724.6C1156.7 728.0 1157.7 732.9 1157.9 734.5" stroke-width="2.6"/>
<path d="M1152.0 717.6C1153.0 717.4 1156.2 716.7 1157.9 716.4C1159.5 716.1 1161.3 715.9 1161.9 715.8" stroke-width="2.2"/>
<path d="M1161.9 719.9C1161.8 721.1 1161.1 724.8 1161.4 726.9C1161.6 729.1 1163.3 731.8 1163.7 732.8" stroke-width="2.6"/>
<path d="M1162.5 708.8L1163.1 711.1" stroke-width="2.6"/>
<path d="M1174.2 718.7C1173.5 719.3 1170.7 720.9 1170.1 722.2C1169.5 723.6 1169.9 725.8 1170.7 726.9C1171.5 728.0 1173.4 728.9 1174.8 728.7C1176.2 728.5 1178.1 727.1 1178.9 725.7C1179.7 724.4 1180.2 721.7 1179.5 720.5C1178.7 719.3 1175.1 719.0 1174.2 718.7" stroke-width="2.4"/>
<path d="M1181.2 721.1L1181.8 725.7" stroke-width="2.4"/>
<path d="M1181.8 723.4C1182.3 722.8 1183.8 720.4 1184.7 719.9C1185.6 719.4 1186.7 720.4 1187.1 720.5" stroke-width="2.4"/>
<path d="M926.6 848.7C925.7 852.2 923.4 862.6 921.1 869.8C918.8 877.0 914.2 888.2 912.8 891.9" stroke-width="2.8"/>
<path d="M926.6 848.7C927.5 851.0 930.6 857.7 932.1 862.5C933.6 867.2 935.6 872.9 935.8 877.2C935.9 881.5 933.5 886.4 933.0 888.2" stroke-width="2.6"/>
<path d="M914.7 881.8C917.0 881.0 923.7 878.6 928.4 877.2C933.2 875.8 940.7 874.1 943.1 873.5" stroke-width="2.4"/>
<path d="M957.8 862.5C956.6 863.4 952.1 865.2 950.5 868.0C948.8 870.8 947.4 875.8 947.7 879.0C948.0 882.2 950.0 886.4 952.3 887.3C954.6 888.2 959.0 886.8 961.5 884.5C963.9 882.2 966.1 875.3 967.0 873.5" stroke-width="2.4"/>
<path d="M967.0 849.6C966.5 852.4 964.7 861.0 964.2 866.2C963.8 871.4 963.8 877.5 964.2 880.8C964.7 884.2 966.5 885.4 967.0 886.4" stroke-width="2.6"/>
<path d="M976.2 862.5C975.1 863.4 971.1 865.2 969.7 868.0C968.4 870.8 967.4 876.1 967.9 879.0C968.4 881.9 970.3 884.8 972.5 885.4C974.6 886.0 978.9 884.7 980.8 882.7C982.6 880.7 983.0 875.0 983.5 873.5" stroke-width="2.4"/>
<path d="M979.8 847.8C980.1 850.6 981.2 858.5 981.7 864.3C982.1 870.1 982.4 879.6 982.6 882.7" stroke-width="2.6"/>
<path d="M996.4 862.5C996.5 864.9 996.7 873.0 997.3 877.2C997.9 881.3 999.6 885.6 1000.0 887.3" stroke-width="2.6"/>
<path d="M982.6 869.8C984.6 869.5 990.4 868.8 994.5 868.0C998.6 867.2 1005.2 865.7 1007.4 865.2" stroke-width="2.4"/>
<path d="M1011.0 866.2C1011.2 867.7 1011.7 872.6 1012.0 875.3C1012.3 878.1 1012.7 881.5 1012.9 882.7" stroke-width="2.6"/>
<path d="M1007.0 853.3L1008.3 857.0" stroke-width="2.6"/>
<path d="M1025.7 864.3C1024.7 865.2 1020.4 867.2 1019.3 869.8C1018.2 872.4 1018.2 877.6 1019.3 879.9C1020.4 882.2 1023.6 884.1 1025.7 883.6C1027.9 883.1 1031.2 879.9 1032.2 877.2C1033.1 874.4 1032.3 869.2 1031.2 867.1C1030.2 864.9 1026.6 864.8 1025.7 864.3" stroke-width="2.4"/>
<path d="M1040.4 871.7C1040.4 872.9 1040.2 876.7 1040.0 879.0C1039.9 881.3 1039.6 884.4 1039.5 885.4" stroke-width="2.4"/>
<path d="M1040.4 877.2C1041.3 875.0 1043.9 867.1 1045.9 864.3C1047.9 861.6 1050.5 859.7 1052.3 860.7C1054.2 861.6 1055.7 864.9 1056.9 869.8C1058.2 874.7 1059.2 886.7 1059.7 890.0" stroke-width="2.6"/>
<path d="M1161.4 993.8C1161.0 996.7 1160.2 1005.1 1159.3 1011.1C1158.5 1017.0 1156.8 1026.4 1156.3 1029.4" stroke-width="2.6"/>
<path d="M1161.4 994.8C1162.1 997.5 1163.9 1006.2 1165.5 1011.1C1167.0 1016.0 1169.4 1024.3 1170.5 1024.3C1171.7 1024.3 1171.9 1015.3 1172.6 1011.1C1173.3 1006.8 1173.8 998.5 1174.6 998.9C1175.5 999.2 1176.6 1008.7 1177.7 1013.1C1178.7 1017.5 1180.2 1023.3 1180.7 1025.3" stroke-width="2.4"/>
<path d="M1186.8 1002.9C1186.0 1004.3 1182.4 1007.7 1181.7 1011.1C1181.1 1014.5 1181.9 1021.9 1182.8 1023.3C1183.6 1024.7 1185.6 1021.9 1186.8 1019.2C1188.0 1016.5 1189.2 1007.0 1189.9 1007.0C1190.6 1007.0 1190.2 1016.0 1190.9 1019.2C1191.6 1022.4 1193.4 1025.2 1194.0 1026.4" stroke-width="2.4"/>
<path d="M1196.0 998.9C1195.8 1001.2 1194.6 1008.5 1194.6 1013.1C1194.6 1017.7 1195.8 1024.1 1196.0 1026.4" stroke-width="2.4"/>
<path d="M1201.1 1000.9C1200.9 1003.3 1200.2 1010.7 1200.1 1015.2C1199.9 1019.6 1200.1 1025.3 1200.1 1027.4" stroke-width="2.4"/>
<path d="M1192.9 1011.1C1194.3 1010.9 1198.5 1010.4 1201.1 1010.1C1203.6 1009.7 1207.0 1009.2 1208.2 1009.0" stroke-width="2.0"/>
<path d="M1206.2 1002.9C1206.0 1005.0 1205.2 1011.8 1205.2 1015.2C1205.2 1018.5 1206.0 1021.9 1206.2 1023.3" stroke-width="2.2"/>
<path d="M1203.1 992.8L1206.2 995.8" stroke-width="2.2"/>
<path d="M1207.2 1014.1C1208.5 1013.9 1212.8 1013.2 1215.3 1012.7C1217.9 1012.2 1219.1 1011.2 1222.5 1011.1C1225.9 1011.0 1233.5 1011.9 1235.7 1012.1" stroke-width="2.2"/>
<path d="M1223.5 995.8C1223.3 998.4 1222.5 1005.8 1222.5 1011.1C1222.5 1016.3 1223.3 1024.7 1223.5 1027.4" stroke-width="2.6"/>
<path d="M1235.7 997.8C1235.5 1000.4 1234.7 1007.9 1234.7 1013.1C1234.7 1018.4 1235.5 1026.7 1235.7 1029.4" stroke-width="2.6"/>
<path d="M1235.7 1019.2C1236.7 1018.2 1240.6 1014.8 1241.8 1013.1C1243.0 1011.4 1243.2 1009.6 1242.8 1009.0C1242.5 1008.5 1240.6 1008.7 1239.8 1010.1C1238.9 1011.4 1237.6 1014.8 1237.7 1017.2C1237.9 1019.6 1239.4 1023.3 1240.8 1024.3C1242.1 1025.3 1245.0 1023.5 1245.9 1023.3" stroke-width="2.2"/>
<path d="M1256.1 1011.1C1255.0 1011.6 1251.3 1012.4 1249.9 1014.1C1248.6 1015.8 1247.6 1019.6 1247.9 1021.3C1248.2 1023.0 1250.6 1024.7 1252.0 1024.3C1253.3 1024.0 1255.2 1021.4 1256.1 1019.2C1256.9 1017.0 1256.9 1012.4 1257.1 1011.1" stroke-width="2.2"/>
<path d="M1265.2 1009.0C1264.2 1009.7 1260.3 1011.1 1259.1 1013.1C1257.9 1015.2 1257.6 1019.4 1258.1 1021.3C1258.6 1023.1 1260.6 1024.5 1262.2 1024.3C1263.7 1024.1 1266.4 1020.9 1267.3 1020.2" stroke-width="2.2"/>
<path d="M1266.2 993.8C1266.4 996.3 1266.8 1004.6 1267.3 1009.0C1267.7 1013.5 1268.4 1018.4 1268.7 1020.2" stroke-width="2.6"/>
<path d="M1304.9 989.7C1303.7 990.0 1299.5 989.9 1297.8 991.7C1296.1 993.6 1294.6 998.0 1294.7 1000.9C1294.9 1003.8 1297.8 1006.7 1298.8 1009.0C1299.8 1011.4 1301.4 1013.5 1300.8 1015.2C1300.3 1016.9 1297.6 1018.4 1295.8 1019.2C1293.9 1020.0 1290.7 1019.7 1289.6 1019.8" stroke-width="2.6"/>
<path d="M1301.9 1011.1C1303.1 1010.6 1307.6 1009.4 1309.0 1008.0C1310.3 1006.7 1310.5 1003.8 1310.0 1002.9C1309.5 1002.1 1307.1 1001.7 1305.9 1002.9C1304.8 1004.1 1303.1 1007.7 1302.9 1010.1C1302.7 1012.4 1303.6 1016.2 1304.9 1017.2C1306.3 1018.2 1310.0 1016.3 1311.0 1016.2" stroke-width="2.2"/>
<path d="M1316.1 993.8C1315.8 996.0 1314.3 1003.1 1314.1 1007.0C1313.9 1010.9 1314.9 1015.5 1315.1 1017.2" stroke-width="2.4"/>
<path d="M1332.4 990.7C1331.6 990.9 1328.5 989.7 1327.3 991.7C1326.1 993.8 1325.5 998.4 1325.3 1002.9C1325.1 1007.5 1326.5 1014.5 1326.3 1019.2C1326.1 1024.0 1325.3 1029.2 1324.3 1031.4C1323.2 1033.6 1320.9 1032.3 1320.2 1032.5" stroke-width="2.4"/>
<path d="M1319.2 1007.0C1320.9 1006.7 1326.6 1005.4 1329.4 1005.0C1332.1 1004.6 1333.1 1004.4 1335.5 1004.6C1337.8 1004.7 1340.9 1005.9 1343.6 1006.0C1346.3 1006.1 1350.4 1005.5 1351.7 1005.4" stroke-width="2.2"/>
<path d="M1361.9 990.7C1360.9 993.1 1358.2 1000.2 1355.8 1005.0C1353.4 1009.7 1349.0 1016.9 1347.7 1019.2" stroke-width="2.6"/>
<path d="M1361.9 990.7C1362.1 993.4 1362.6 1001.9 1362.9 1007.0C1363.3 1012.1 1363.8 1018.9 1364.0 1021.3" stroke-width="2.6"/>
<path d="M1345.6 1010.1C1348.0 1009.6 1355.1 1008.0 1359.9 1007.0C1364.6 1006.0 1371.8 1004.5 1374.1 1004.0" stroke-width="2.2"/>
<path d="M1371.1 997.8C1370.9 999.7 1370.1 1005.3 1370.1 1009.0C1370.1 1012.8 1370.9 1018.4 1371.1 1020.2" stroke-width="2.4"/>
<path d="M1379.2 998.9C1379.1 1000.9 1378.2 1007.3 1378.2 1011.1C1378.2 1014.8 1379.1 1019.6 1379.2 1021.3" stroke-width="2.4"/>
<path d="M1366.0 1009.0C1368.0 1008.7 1375.0 1007.5 1378.2 1007.0C1381.4 1006.5 1384.2 1006.2 1385.3 1006.0" stroke-width="2.0"/>
<path d="M1383.3 1013.1C1384.3 1012.8 1388.2 1012.1 1389.4 1011.1C1390.6 1010.1 1390.8 1007.9 1390.4 1007.0C1390.1 1006.2 1388.4 1005.3 1387.4 1006.0C1386.4 1006.7 1384.7 1009.0 1384.3 1011.1C1384.0 1013.1 1384.2 1017.0 1385.3 1018.2C1386.5 1019.4 1390.4 1018.2 1391.5 1018.2" stroke-width="2.2"/>
<path d="M1394.5 1008.0C1394.5 1009.0 1394.6 1012.1 1394.5 1014.1C1394.4 1016.2 1394.2 1019.2 1394.1 1020.2" stroke-width="2.2"/>
<path d="M1394.5 1012.1C1395.2 1011.3 1397.4 1007.3 1398.6 1007.0C1399.8 1006.7 1401.0 1007.9 1401.6 1010.1C1402.2 1012.3 1402.1 1018.5 1402.2 1020.2" stroke-width="2.2"/>
<path d="M1406.7 997.8C1406.6 1000.1 1405.9 1007.2 1405.7 1011.1C1405.5 1015.0 1405.7 1019.6 1405.7 1021.3" stroke-width="2.4"/>
<path d="M1400.6 1007.0C1401.6 1006.7 1404.7 1005.8 1406.7 1005.4C1408.8 1005.0 1411.8 1004.7 1412.8 1004.6" stroke-width="2.0"/>
<path d="M1411.8 1008.0C1411.7 1009.2 1411.2 1013.1 1411.2 1015.2C1411.2 1017.2 1411.7 1019.4 1411.8 1020.2" stroke-width="2.2"/>
<path d="M1410.8 998.9L1411.8 1000.9" stroke-width="2.2"/>
<path d="M1417.9 1006.0C1417.4 1006.7 1415.3 1008.5 1414.9 1010.1C1414.4 1011.6 1414.6 1014.1 1415.3 1015.2C1416.0 1016.2 1417.8 1016.9 1418.9 1016.2C1420.1 1015.5 1421.7 1012.7 1422.0 1011.1C1422.3 1009.5 1421.7 1007.5 1421.0 1006.6C1420.3 1005.8 1418.4 1006.1 1417.9 1006.0" stroke-width="2.2"/>
<path d="M1424.0 1008.0L1424.0 1015.2" stroke-width="2.2"/>
<path d="M1424.0 1011.1C1424.5 1010.2 1426.2 1006.3 1427.1 1006.0C1427.9 1005.7 1428.7 1006.7 1429.1 1009.0C1429.5 1011.4 1429.5 1018.4 1429.5 1020.2" stroke-width="2.2"/>
<path d="M875.3 1291.0C874.7 1290.6 870.3 1289.6 871.6 1288.8C872.8 1288.1 878.8 1287.2 882.8 1286.7C886.8 1286.2 893.5 1286.1 895.6 1286.0" stroke-width="2.6"/>
<path d="M883.8 1287.8C884.1 1290.3 884.9 1298.3 885.4 1302.7C886.0 1307.2 886.8 1312.5 887.0 1314.5" stroke-width="2.6"/>
<path d="M872.6 1324.6C874.8 1323.6 881.3 1320.2 886.0 1318.2C890.7 1316.3 898.4 1313.8 900.9 1312.9" stroke-width="3.4"/>
<path d="M900.9 1299.5C901.0 1300.9 901.2 1305.4 901.5 1308.1C901.7 1310.7 902.4 1314.3 902.5 1315.5" stroke-width="2.6"/>
<path d="M901.5 1304.9C901.9 1303.8 903.0 1299.6 904.1 1298.5C905.3 1297.3 907.0 1296.7 908.4 1297.9C909.8 1299.2 911.3 1302.8 912.7 1305.9C914.1 1309.0 916.2 1314.8 916.9 1316.6" stroke-width="2.6"/>
<path d="M919.1 1293.1C919.6 1295.6 921.2 1302.9 922.3 1308.1C923.4 1313.2 924.6 1319.6 925.5 1324.1C926.4 1328.5 927.3 1333.0 927.6 1334.8" stroke-width="2.6"/>
<path d="M919.1 1293.1C920.2 1293.3 923.5 1292.9 925.5 1294.2C927.5 1295.4 929.8 1298.3 930.8 1300.6C931.9 1302.9 932.3 1305.9 931.9 1308.1C931.5 1310.2 929.6 1312.2 928.7 1313.4C927.8 1314.7 926.9 1315.2 926.6 1315.5" stroke-width="2.6"/>
<path d="M939.4 1295.2C939.6 1296.8 939.7 1301.7 940.4 1304.9C941.2 1308.1 942.4 1313.6 943.7 1314.5C944.9 1315.4 946.7 1312.5 947.9 1310.2C949.2 1307.9 950.2 1303.4 951.1 1300.6C952.0 1297.7 952.9 1294.4 953.3 1293.1" stroke-width="2.6"/>
<path d="M951.1 1300.6C951.3 1301.8 951.5 1306.1 952.2 1308.1C952.9 1310.0 954.4 1311.8 955.4 1312.3C956.4 1312.9 957.6 1311.4 958.1 1311.3" stroke-width="2.6"/>
<path d="M958.1 1282.4C958.0 1284.6 957.1 1291.3 957.5 1295.2C958.0 1299.2 959.5 1303.6 960.7 1305.9C962.0 1308.2 963.4 1309.0 965.0 1309.1C966.6 1309.2 969.5 1306.9 970.4 1306.5" stroke-width="2.8"/>
<path d="M945.8 1295.2C947.6 1294.7 952.7 1292.8 956.5 1292.0C960.2 1291.2 966.3 1290.7 968.2 1290.4" stroke-width="2.4"/></g>
</svg>
</body></html>
